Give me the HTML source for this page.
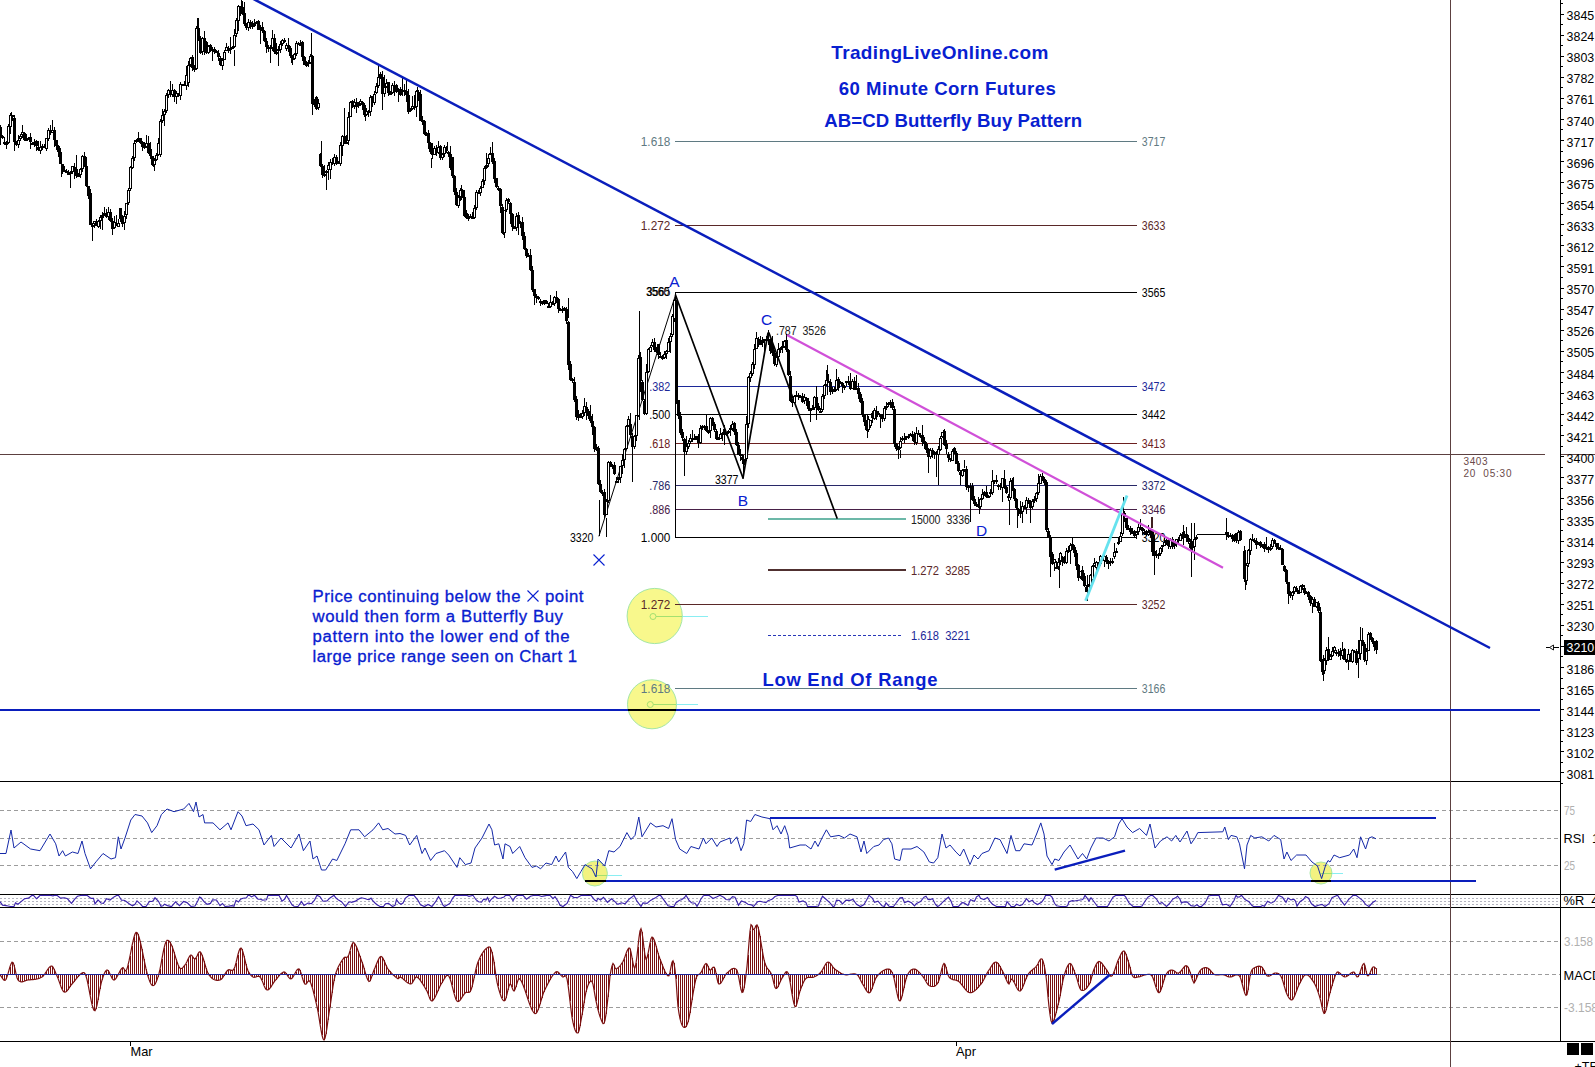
<!DOCTYPE html>
<html><head><meta charset="utf-8"><title>60 Minute Corn Futures</title>
<style>html,body{margin:0;padding:0;background:#fff;overflow:hidden}svg{display:block}</style>
</head><body>
<svg width="1595" height="1067" viewBox="0 0 1595 1067" font-family="Liberation Sans, sans-serif">
<rect width="1595" height="1067" fill="#fff"/>
<g id="circles">
<circle cx="654.7" cy="616" r="27.6" fill="#f8f88c" stroke="#a4e6a4" stroke-width="1"/>
<circle cx="652" cy="704.3" r="24.5" fill="#f8f88c" stroke="#a4e6a4" stroke-width="1"/>
<circle cx="594.9" cy="873.5" r="12.5" fill="#f2f280" stroke="#a8e8a8" stroke-width="1"/>
<circle cx="1321" cy="873" r="11" fill="#f2f280" stroke="#a8e8a8" stroke-width="1"/>
</g>
<g shape-rendering="crispEdges" fill="#000">
<rect x="0" y="781" width="1561" height="1"/>
<rect x="0" y="894" width="1595" height="1"/>
<rect x="0" y="907" width="1595" height="1"/>
<rect x="0" y="1041" width="1595" height="1"/>
<rect x="1560" y="0" width="1" height="1042"/>
<rect x="130" y="1042" width="1" height="4"/>
<rect x="956" y="1042" width="1" height="4"/>
</g>
<g stroke="#9c9c9c" stroke-width="1" stroke-dasharray="4 3" shape-rendering="crispEdges">
<line x1="0" y1="810.5" x2="1560" y2="810.5"/>
<line x1="0" y1="838.5" x2="1560" y2="838.5"/>
<line x1="0" y1="865.5" x2="1560" y2="865.5"/>
<line x1="0" y1="941.5" x2="1560" y2="941.5"/>
<line x1="0" y1="1007.5" x2="1560" y2="1007.5"/>
<line x1="1377" y1="974.5" x2="1560" y2="974.5"/>
</g>
<g stroke="#b4b4c0" stroke-width="1" stroke-dasharray="2 2" shape-rendering="crispEdges">
<line x1="0" y1="898.5" x2="1560" y2="898.5"/>
<line x1="0" y1="901.5" x2="1560" y2="901.5"/>
<line x1="0" y1="904.5" x2="1560" y2="904.5"/>
</g>
<g shape-rendering="crispEdges" fill="#5c4040">
<rect x="0" y="454" width="1545" height="1"/>
<rect x="1561" y="454" width="34" height="1"/>
<rect x="1450" y="0" width="1" height="1067"/>
</g>
<g shape-rendering="crispEdges">
<rect x="675" y="141" width="462" height="1" fill="#5f7a82"/>
<rect x="675" y="225" width="462" height="1" fill="#5a2828"/>
<rect x="675" y="292" width="462" height="1" fill="#000000"/>
<rect x="675" y="386" width="462" height="1" fill="#1c2898"/>
<rect x="675" y="414" width="462" height="1" fill="#000000"/>
<rect x="675" y="443" width="462" height="1" fill="#6c2020"/>
<rect x="675" y="485" width="462" height="1" fill="#282868"/>
<rect x="675" y="509" width="462" height="1" fill="#482048"/>
<rect x="675" y="537" width="462" height="1" fill="#000000"/>
<rect x="675" y="604" width="462" height="1" fill="#5a2828"/>
<rect x="675" y="688" width="462" height="1" fill="#5f7a82"/>
<rect x="675" y="292" width="1" height="246" fill="#000"/>
</g>
<g font-size="12.2">
<text x="640.8" y="145.9" fill="#5f7a82" textLength="29.5" lengthAdjust="spacingAndGlyphs">1.618</text>
<text x="1141.8" y="145.9" fill="#5f7a82" textLength="23.5" lengthAdjust="spacingAndGlyphs">3717</text>
<text x="640.8" y="229.9" fill="#5a2828" textLength="29.5" lengthAdjust="spacingAndGlyphs">1.272</text>
<text x="1141.8" y="229.9" fill="#5a2828" textLength="23.5" lengthAdjust="spacingAndGlyphs">3633</text>
<text x="1141.8" y="296.9" fill="#000000" textLength="23.5" lengthAdjust="spacingAndGlyphs">3565</text>
<text x="649.3" y="390.9" fill="#1c2898" textLength="21" lengthAdjust="spacingAndGlyphs">.382</text>
<text x="1141.8" y="390.9" fill="#1c2898" textLength="23.5" lengthAdjust="spacingAndGlyphs">3472</text>
<text x="649.3" y="418.9" fill="#000000" textLength="21" lengthAdjust="spacingAndGlyphs">.500</text>
<text x="1141.8" y="418.9" fill="#000000" textLength="23.5" lengthAdjust="spacingAndGlyphs">3442</text>
<text x="649.3" y="447.9" fill="#6c2020" textLength="21" lengthAdjust="spacingAndGlyphs">.618</text>
<text x="1141.8" y="447.9" fill="#6c2020" textLength="23.5" lengthAdjust="spacingAndGlyphs">3413</text>
<text x="649.3" y="489.9" fill="#282868" textLength="21" lengthAdjust="spacingAndGlyphs">.786</text>
<text x="1141.8" y="489.9" fill="#282868" textLength="23.5" lengthAdjust="spacingAndGlyphs">3372</text>
<text x="649.3" y="513.9" fill="#482048" textLength="21" lengthAdjust="spacingAndGlyphs">.886</text>
<text x="1141.8" y="513.9" fill="#482048" textLength="23.5" lengthAdjust="spacingAndGlyphs">3346</text>
<text x="640.8" y="541.9" fill="#000000" textLength="29.5" lengthAdjust="spacingAndGlyphs">1.000</text>
<text x="1141.8" y="541.9" fill="#000000" textLength="23.5" lengthAdjust="spacingAndGlyphs">3320</text>
<text x="640.8" y="608.9" fill="#5a2828" textLength="29.5" lengthAdjust="spacingAndGlyphs">1.272</text>
<text x="1141.8" y="608.9" fill="#5a2828" textLength="23.5" lengthAdjust="spacingAndGlyphs">3252</text>
<text x="640.8" y="692.9" fill="#5f7a82" textLength="29.5" lengthAdjust="spacingAndGlyphs">1.618</text>
<text x="1141.8" y="692.9" fill="#5f7a82" textLength="23.5" lengthAdjust="spacingAndGlyphs">3166</text>
</g>
<g shape-rendering="crispEdges">
<rect x="768" y="569" width="138" height="2" fill="#503030"/>
<rect x="768" y="518" width="138" height="2" fill="#6cb8a8"/>
</g>
<line x1="768" y1="635.5" x2="903" y2="635.5" stroke="#2838b8" stroke-width="1" stroke-dasharray="3 2" shape-rendering="crispEdges"/>
<g font-size="12.2">
<text x="911" y="523.6" fill="#202020" textLength="59" lengthAdjust="spacingAndGlyphs">15000&#160;&#160;3336</text>
<text x="911" y="574.8" fill="#5a2828" textLength="59" lengthAdjust="spacingAndGlyphs">1.272&#160;&#160;3285</text>
<text x="911" y="639.8" fill="#1c2898" textLength="59" lengthAdjust="spacingAndGlyphs">1.618&#160;&#160;3221</text>
<text x="776" y="335.4" fill="#202020" textLength="50" lengthAdjust="spacingAndGlyphs">.787&#160;&#160;3526</text>
<text x="646" y="296.4" fill="#000" textLength="23.5" lengthAdjust="spacingAndGlyphs">3560</text>
<text x="646.8" y="296.4" fill="#000" textLength="23.5" lengthAdjust="spacingAndGlyphs">3565</text>
<text x="570" y="541.6" fill="#000" textLength="23.5" lengthAdjust="spacingAndGlyphs">3320</text>
<text x="715" y="484" fill="#000" textLength="23.5" lengthAdjust="spacingAndGlyphs">3377</text>
</g>
<g stroke="#000" fill="none" stroke-linecap="round">
<line x1="599" y1="536" x2="675.5" y2="295" stroke-width="1"/>
<line x1="675.5" y1="295" x2="743" y2="478" stroke-width="1.7"/>
<line x1="743" y1="478" x2="768" y2="333" stroke-width="1.7"/>
<line x1="769" y1="333" x2="837" y2="518" stroke-width="1.7"/>
</g>
<path d="M0 125h1v20h-1zM-1 127h3v9h-3zM2 135h1v4h-1zM1 136h3v2h-3zM4 137h1v8h-1zM3 142h3v2h-3zM6 141h1v8h-1zM5 143h3v2h-3zM8 124h1v20h-1zM7 126h3v17h-3zM10 113h1v21h-1zM9 115h3v12h-3zM12 115h1v6h-1zM11 115h3v2h-3zM14 115h1v36h-1zM13 118h3v24h-3zM16 141h1v5h-1zM15 142h3v3h-3zM18 135h1v13h-1zM17 140h3v5h-3zM20 134h1v7h-1zM19 136h3v3h-3zM22 125h1v13h-1zM21 132h3v3h-3zM24 132h1v9h-1zM23 133h3v7h-3zM26 134h1v7h-1zM25 139h3v2h-3zM28 137h1v2h-1zM27 138h3v2h-3zM30 133h1v16h-1zM29 137h3v5h-3zM32 142h1v2h-1zM31 143h3v2h-3zM34 139h1v8h-1zM33 142h3v3h-3zM36 140h1v11h-1zM35 141h3v5h-3zM38 141h1v10h-1zM37 147h3v3h-3zM40 141h1v11h-1zM39 147h3v4h-3zM42 144h1v6h-1zM41 146h3v2h-3zM44 144h1v4h-1zM43 146h3v2h-3zM46 138h1v13h-1zM45 138h3v11h-3zM48 128h1v13h-1zM47 130h3v9h-3zM50 125h1v10h-1zM49 130h3v3h-3zM52 128h1v5h-1zM51 130h3v3h-3zM54 127h1v20h-1zM53 130h3v10h-3zM56 140h1v10h-1zM55 140h3v6h-3zM58 145h1v12h-1zM57 146h3v6h-3zM60 148h1v16h-1zM59 152h3v12h-3zM62 164h1v10h-1zM61 164h3v6h-3zM64 166h1v6h-1zM63 170h3v2h-3zM66 169h1v4h-1zM65 171h3v2h-3zM68 170h1v5h-1zM67 173h3v2h-3zM70 171h1v17h-1zM69 172h3v2h-3zM72 166h1v8h-1zM71 166h3v6h-3zM74 163h1v16h-1zM73 167h3v2h-3zM76 155h1v23h-1zM75 169h3v7h-3zM78 173h1v3h-1zM77 175h3v2h-3zM80 168h1v10h-1zM79 169h3v6h-3zM82 155h1v17h-1zM81 156h3v13h-3zM84 152h1v15h-1zM83 156h3v10h-3zM86 157h1v30h-1zM85 166h3v20h-3zM88 186h1v13h-1zM87 186h3v10h-3zM90 189h1v36h-1zM89 193h3v32h-3zM92 223h1v8h-1zM91 225h3v2h-3zM94 221h1v7h-1zM93 221h3v3h-3zM96 219h1v7h-1zM95 221h3v5h-3zM98 220h1v8h-1zM97 221h3v6h-3zM100 215h1v14h-1zM99 217h3v4h-3zM102 212h1v18h-1zM101 215h3v3h-3zM104 207h1v9h-1zM103 213h3v2h-3zM106 209h1v9h-1zM105 213h3v4h-3zM108 207h1v13h-1zM107 212h3v5h-3zM110 209h1v13h-1zM109 212h3v9h-3zM112 218h1v17h-1zM111 221h3v8h-3zM114 216h1v13h-1zM113 222h3v6h-3zM116 215h1v11h-1zM115 223h3v3h-3zM118 219h1v8h-1zM117 223h3v4h-3zM120 208h1v14h-1zM119 208h3v11h-3zM122 215h1v12h-1zM121 219h3v5h-3zM124 211h1v14h-1zM123 216h3v7h-3zM126 203h1v16h-1zM125 203h3v12h-3zM128 188h1v17h-1zM127 190h3v13h-3zM130 166h1v25h-1zM129 167h3v22h-3zM132 156h1v13h-1zM131 158h3v10h-3zM134 140h1v21h-1zM133 143h3v15h-3zM136 139h1v4h-1zM135 140h3v2h-3zM138 132h1v10h-1zM137 138h3v2h-3zM140 138h1v6h-1zM139 138h3v5h-3zM142 141h1v10h-1zM141 142h3v5h-3zM144 142h1v7h-1zM143 146h3v2h-3zM146 135h1v13h-1zM145 143h3v4h-3zM148 136h1v18h-1zM147 143h3v10h-3zM150 142h1v17h-1zM149 149h3v7h-3zM152 156h1v10h-1zM151 156h3v9h-3zM154 158h1v13h-1zM153 160h3v5h-3zM156 153h1v8h-1zM155 155h3v5h-3zM158 138h1v18h-1zM157 143h3v12h-3zM160 119h1v38h-1zM159 121h3v34h-3zM162 109h1v14h-1zM161 115h3v6h-3zM164 109h1v17h-1zM163 111h3v4h-3zM166 93h1v20h-1zM165 95h3v16h-3zM168 89h1v9h-1zM167 90h3v5h-3zM170 81h1v16h-1zM169 90h3v4h-3zM172 84h1v13h-1zM171 90h3v5h-3zM174 89h1v13h-1zM173 90h3v7h-3zM176 91h1v13h-1zM175 93h3v4h-3zM178 93h1v4h-1zM177 93h3v3h-3zM180 82h1v18h-1zM179 84h3v12h-3zM182 84h1v2h-1zM181 84h3v2h-3zM184 81h1v5h-1zM183 84h3v2h-3zM186 66h1v24h-1zM185 75h3v11h-3zM188 61h1v26h-1zM187 65h3v18h-3zM190 57h1v10h-1zM189 58h3v7h-3zM192 55h1v16h-1zM191 57h3v11h-3zM194 65h1v7h-1zM193 68h3v2h-3zM196 26h1v44h-1zM195 28h3v41h-3zM198 18h1v23h-1zM197 28h3v12h-3zM200 36h1v18h-1zM199 39h3v14h-3zM202 37h1v18h-1zM201 38h3v14h-3zM204 31h1v24h-1zM203 38h3v5h-3zM206 41h1v13h-1zM205 42h3v11h-3zM208 45h1v9h-1zM207 46h3v7h-3zM210 44h1v8h-1zM209 45h3v6h-3zM212 47h1v14h-1zM211 49h3v2h-3zM214 47h1v7h-1zM213 49h3v3h-3zM216 50h1v3h-1zM215 51h3v2h-3zM218 50h1v11h-1zM217 53h3v4h-3zM220 56h1v10h-1zM219 58h3v7h-3zM222 59h1v11h-1zM221 60h3v6h-3zM224 50h1v10h-1zM223 52h3v8h-3zM226 43h1v8h-1zM225 47h3v4h-3zM228 46h1v7h-1zM227 48h3v3h-3zM230 37h1v17h-1zM229 48h3v2h-3zM232 46h1v2h-1zM231 47h3v2h-3zM234 29h1v19h-1zM233 35h3v12h-3zM236 18h1v19h-1zM235 20h3v14h-3zM238 5h1v26h-1zM237 6h3v15h-3zM240 6h1v10h-1zM239 7h3v2h-3zM242 1h1v14h-1zM241 7h3v7h-3zM244 2h1v24h-1zM243 13h3v11h-3zM246 23h1v7h-1zM245 24h3v4h-3zM248 19h1v12h-1zM247 22h3v6h-3zM250 20h1v9h-1zM249 22h3v2h-3zM252 21h1v8h-1zM251 23h3v4h-3zM254 19h1v8h-1zM253 24h3v2h-3zM256 21h1v3h-1zM255 22h3v2h-3zM258 20h1v10h-1zM257 21h3v9h-3zM260 25h1v19h-1zM259 28h3v2h-3zM262 22h1v11h-1zM261 27h3v4h-3zM264 30h1v12h-1zM263 31h3v10h-3zM266 38h1v15h-1zM265 41h3v6h-3zM268 45h1v7h-1zM267 47h3v2h-3zM270 45h1v14h-1zM269 47h3v2h-3zM272 37h1v14h-1zM271 38h3v10h-3zM274 34h1v20h-1zM273 38h3v14h-3zM276 43h1v12h-1zM275 52h3v2h-3zM278 46h1v6h-1zM277 49h3v2h-3zM280 41h1v12h-1zM279 44h3v6h-3zM282 39h1v7h-1zM281 40h3v4h-3zM284 38h1v5h-1zM283 40h3v2h-3zM286 43h1v8h-1zM285 45h3v4h-3zM288 38h1v14h-1zM287 45h3v4h-3zM290 46h1v12h-1zM289 48h3v8h-3zM292 55h1v10h-1zM291 56h3v4h-3zM294 53h1v7h-1zM293 54h3v5h-3zM296 41h1v15h-1zM295 43h3v11h-3zM298 42h1v3h-1zM297 43h3v2h-3zM300 40h1v6h-1zM299 44h3v2h-3zM302 41h1v20h-1zM301 42h3v15h-3zM304 56h1v9h-1zM303 57h3v8h-3zM306 61h1v6h-1zM305 64h3v2h-3zM308 60h1v7h-1zM307 62h3v2h-3zM310 54h1v10h-1zM309 56h3v7h-3zM312 55h1v60h-1zM311 56h3v48h-3zM314 99h1v8h-1zM313 102h3v3h-3zM316 96h1v14h-1zM315 97h3v12h-3zM318 102h1v8h-1zM317 103h3v5h-3zM320 153h1v14h-1zM319 154h3v12h-3zM322 164h1v14h-1zM321 166h3v9h-3zM324 165h1v12h-1zM323 174h3v2h-3zM326 170h1v6h-1zM325 171h3v2h-3zM328 162h1v18h-1zM327 165h3v5h-3zM330 159h1v20h-1zM329 162h3v8h-3zM332 158h1v7h-1zM331 162h3v2h-3zM334 154h1v12h-1zM333 157h3v7h-3zM336 155h1v10h-1zM335 157h3v6h-3zM338 161h1v3h-1zM337 162h3v2h-3zM340 142h1v24h-1zM339 145h3v19h-3zM342 135h1v21h-1zM341 136h3v10h-3zM344 134h1v10h-1zM343 136h3v7h-3zM346 135h1v9h-1zM345 142h3v2h-3zM348 112h1v33h-1zM347 117h3v24h-3zM350 101h1v16h-1zM349 102h3v15h-3zM352 100h1v8h-1zM351 101h3v6h-3zM354 99h1v10h-1zM353 102h3v4h-3zM356 98h1v15h-1zM355 102h3v5h-3zM358 102h1v6h-1zM357 104h3v2h-3zM360 99h1v7h-1zM359 101h3v3h-3zM362 101h1v9h-1zM361 102h3v3h-3zM364 103h1v14h-1zM363 105h3v10h-3zM366 108h1v8h-1zM365 111h3v4h-3zM368 110h1v7h-1zM367 111h3v2h-3zM370 95h1v21h-1zM369 97h3v15h-3zM372 96h1v11h-1zM371 96h3v6h-3zM374 91h1v14h-1zM373 94h3v9h-3zM376 83h1v11h-1zM375 86h3v7h-3zM378 77h1v11h-1zM377 77h3v9h-3zM380 72h1v7h-1zM379 74h3v3h-3zM382 71h1v24h-1zM381 77h3v17h-3zM384 75h1v22h-1zM383 87h3v7h-3zM386 79h1v9h-1zM385 83h3v4h-3zM388 82h1v14h-1zM387 82h3v11h-3zM390 91h1v2h-1zM389 93h3v2h-3zM392 83h1v11h-1zM391 85h3v8h-3zM394 81h1v15h-1zM393 86h3v2h-3zM396 84h1v9h-1zM395 85h3v7h-3zM398 88h1v14h-1zM397 89h3v3h-3zM400 87h1v9h-1zM399 89h3v6h-3zM402 76h1v20h-1zM401 90h3v2h-3zM404 84h1v12h-1zM403 90h3v2h-3zM406 80h1v22h-1zM405 91h3v4h-3zM408 89h1v25h-1zM407 95h3v17h-3zM410 108h1v4h-1zM409 109h3v2h-3zM412 96h1v14h-1zM411 106h3v3h-3zM414 95h1v15h-1zM413 106h3v2h-3zM416 90h1v27h-1zM415 91h3v16h-3zM418 90h1v11h-1zM417 92h3v7h-3zM420 90h1v31h-1zM419 94h3v27h-3zM422 116h1v9h-1zM421 120h3v2h-3zM424 120h1v15h-1zM423 121h3v13h-3zM426 132h1v4h-1zM425 134h3v2h-3zM428 130h1v19h-1zM427 133h3v10h-3zM430 142h1v12h-1zM429 143h3v9h-3zM432 143h1v16h-1zM431 152h3v3h-3zM434 146h1v9h-1zM433 148h3v7h-3zM436 145h1v11h-1zM435 148h3v4h-3zM438 141h1v13h-1zM437 147h3v6h-3zM440 145h1v15h-1zM439 146h3v12h-3zM442 153h1v7h-1zM441 154h3v4h-3zM444 145h1v12h-1zM443 147h3v7h-3zM446 146h1v7h-1zM445 147h3v4h-3zM448 151h1v6h-1zM447 152h3v2h-3zM450 146h1v24h-1zM449 154h3v14h-3zM452 157h1v21h-1zM451 157h3v19h-3zM454 175h1v20h-1zM453 176h3v16h-3zM456 188h1v18h-1zM455 192h3v13h-3zM458 195h1v13h-1zM457 197h3v9h-3zM460 188h1v13h-1zM459 190h3v7h-3zM462 189h1v9h-1zM461 190h3v7h-3zM464 190h1v27h-1zM463 197h3v19h-3zM466 210h1v9h-1zM465 213h3v5h-3zM468 214h1v7h-1zM467 216h3v3h-3zM470 214h1v4h-1zM469 216h3v2h-3zM472 212h1v6h-1zM471 217h3v2h-3zM474 205h1v14h-1zM473 208h3v10h-3zM476 190h1v20h-1zM475 192h3v16h-3zM478 190h1v4h-1zM477 192h3v2h-3zM480 186h1v10h-1zM479 188h3v5h-3zM482 179h1v9h-1zM481 181h3v7h-3zM484 166h1v19h-1zM483 168h3v13h-3zM486 153h1v16h-1zM485 165h3v3h-3zM488 154h1v13h-1zM487 158h3v6h-3zM490 147h1v8h-1zM489 153h3v2h-3zM492 152h1v12h-1zM491 153h3v9h-3zM494 158h1v25h-1zM493 161h3v18h-3zM496 178h1v10h-1zM495 178h3v9h-3zM498 186h1v5h-1zM497 188h3v2h-3zM500 188h1v25h-1zM499 189h3v17h-3zM502 204h1v30h-1zM501 207h3v26h-3zM504 210h1v28h-1zM503 210h3v23h-3zM506 198h1v14h-1zM505 200h3v10h-3zM508 198h1v6h-1zM507 199h3v3h-3zM510 202h1v22h-1zM509 203h3v11h-3zM512 213h1v18h-1zM511 214h3v13h-3zM514 226h1v1h-1zM513 227h3v2h-3zM516 213h1v18h-1zM515 216h3v12h-3zM518 212h1v23h-1zM517 215h3v7h-3zM520 221h1v7h-1zM519 222h3v2h-3zM522 217h1v23h-1zM521 222h3v14h-3zM524 232h1v18h-1zM523 236h3v13h-3zM526 248h1v10h-1zM525 249h3v7h-3zM528 253h1v3h-1zM527 255h3v2h-3zM530 249h1v22h-1zM529 255h3v15h-3zM532 266h1v26h-1zM531 270h3v20h-3zM534 289h1v16h-1zM533 289h3v7h-3zM536 294h1v9h-1zM535 296h3v2h-3zM538 296h1v4h-1zM537 297h3v2h-3zM540 299h1v7h-1zM539 301h3v2h-3zM542 301h1v4h-1zM541 302h3v2h-3zM544 300h1v5h-1zM543 300h3v2h-3zM546 300h1v4h-1zM545 301h3v3h-3zM548 303h1v5h-1zM547 306h3v2h-3zM550 295h1v13h-1zM549 302h3v5h-3zM552 301h1v4h-1zM551 303h3v2h-3zM554 296h1v10h-1zM553 297h3v7h-3zM556 291h1v12h-1zM555 297h3v3h-3zM558 298h1v15h-1zM557 299h3v10h-3zM560 308h1v3h-1zM559 309h3v2h-3zM562 306h1v7h-1zM561 309h3v2h-3zM564 307h1v4h-1zM563 308h3v2h-3zM566 307h1v17h-1zM565 309h3v12h-3zM568 321h1v49h-1zM567 322h3v43h-3zM570 361h1v20h-1zM569 364h3v16h-3zM572 378h1v5h-1zM571 379h3v2h-3zM574 377h1v25h-1zM573 382h3v18h-3zM576 396h1v24h-1zM575 399h3v18h-3zM578 410h1v11h-1zM577 415h3v3h-3zM580 413h1v5h-1zM579 414h3v4h-3zM582 410h1v9h-1zM581 413h3v4h-3zM584 398h1v18h-1zM583 406h3v7h-3zM586 402h1v18h-1zM585 407h3v5h-3zM588 409h1v10h-1zM587 411h3v5h-3zM590 405h1v18h-1zM589 416h3v5h-3zM592 414h1v21h-1zM591 421h3v6h-3zM594 426h1v26h-1zM593 427h3v22h-3zM596 444h1v7h-1zM595 447h3v3h-3zM598 446h1v39h-1zM597 448h3v36h-3zM600 480h1v13h-1zM599 484h3v8h-3zM602 490h1v6h-1zM601 492h3v2h-3zM604 489h1v29h-1zM603 492h3v23h-3zM606 499h1v16h-1zM605 501h3v14h-3zM608 461h1v42h-1zM607 462h3v39h-3zM610 461h1v6h-1zM609 462h3v3h-3zM612 464h1v5h-1zM611 465h3v2h-3zM614 462h1v13h-1zM613 465h3v9h-3zM616 477h1v5h-1zM615 481h3v2h-3zM618 477h1v6h-1zM617 478h3v2h-3zM620 466h1v17h-1zM619 466h3v12h-3zM622 454h1v20h-1zM621 460h3v6h-3zM624 448h1v20h-1zM623 449h3v11h-3zM626 425h1v25h-1zM625 426h3v23h-3zM628 416h1v11h-1zM627 419h3v7h-3zM630 413h1v25h-1zM629 424h3v11h-3zM632 433h1v16h-1zM631 436h3v11h-3zM634 435h1v14h-1zM633 436h3v11h-3zM636 415h1v26h-1zM635 415h3v21h-3zM638 355h1v62h-1zM637 358h3v58h-3zM640 352h1v40h-1zM639 357h3v24h-3zM642 380h1v21h-1zM641 382h3v18h-3zM644 399h1v16h-1zM643 401h3v13h-3zM646 364h1v51h-1zM645 372h3v42h-3zM648 348h1v25h-1zM647 349h3v23h-3zM650 345h1v7h-1zM649 347h3v5h-3zM652 339h1v8h-1zM651 342h3v4h-3zM654 338h1v14h-1zM653 342h3v8h-3zM656 347h1v6h-1zM655 349h3v3h-3zM658 344h1v15h-1zM657 344h3v11h-3zM660 352h1v6h-1zM659 356h3v2h-3zM662 355h1v5h-1zM661 357h3v2h-3zM664 351h1v8h-1zM663 354h3v4h-3zM666 350h1v9h-1zM665 351h3v3h-3zM668 338h1v14h-1zM667 342h3v10h-3zM670 333h1v20h-1zM669 336h3v6h-3zM672 314h1v23h-1zM671 316h3v19h-3zM674 299h1v23h-1zM673 300h3v19h-3zM676 300h1v104h-1zM675 300h3v101h-3zM678 400h1v19h-1zM677 400h3v16h-3zM680 412h1v23h-1zM679 416h3v17h-3zM682 429h1v12h-1zM681 432h3v6h-3zM684 438h1v16h-1zM683 439h3v13h-3zM686 436h1v19h-1zM685 446h3v6h-3zM688 440h1v9h-1zM687 443h3v4h-3zM690 434h1v10h-1zM689 438h3v4h-3zM692 430h1v12h-1zM691 438h3v2h-3zM694 434h1v6h-1zM693 438h3v2h-3zM696 436h1v4h-1zM695 436h3v2h-3zM698 434h1v14h-1zM697 436h3v7h-3zM700 425h1v19h-1zM699 428h3v15h-3zM702 425h1v5h-1zM701 426h3v2h-3zM704 425h1v5h-1zM703 426h3v2h-3zM706 414h1v18h-1zM705 426h3v5h-3zM708 430h1v4h-1zM707 431h3v2h-3zM710 417h1v21h-1zM709 418h3v13h-3zM712 417h1v9h-1zM711 418h3v7h-3zM714 422h1v10h-1zM713 424h3v6h-3zM716 429h1v11h-1zM715 431h3v8h-3zM718 437h1v3h-1zM717 438h3v2h-3zM720 428h1v11h-1zM719 434h3v5h-3zM722 432h1v9h-1zM721 433h3v2h-3zM724 425h1v20h-1zM723 429h3v6h-3zM726 433h1v3h-1zM725 433h3v2h-3zM728 430h1v4h-1zM727 431h3v2h-3zM730 425h1v11h-1zM729 428h3v2h-3zM732 421h1v10h-1zM731 424h3v5h-3zM734 422h1v13h-1zM733 423h3v9h-3zM736 429h1v17h-1zM735 432h3v13h-3zM738 442h1v13h-1zM737 445h3v10h-3zM740 449h1v12h-1zM739 454h3v2h-3zM742 454h1v10h-1zM741 457h3v3h-3zM744 459h1v6h-1zM743 459h3v2h-3zM746 416h1v45h-1zM745 424h3v35h-3zM748 376h1v52h-1zM747 377h3v47h-3zM750 371h1v11h-1zM749 373h3v5h-3zM752 362h1v14h-1zM751 364h3v10h-3zM754 344h1v25h-1zM753 349h3v16h-3zM756 332h1v17h-1zM755 338h3v11h-3zM758 337h1v10h-1zM757 339h3v6h-3zM760 336h1v9h-1zM759 343h3v2h-3zM762 337h1v10h-1zM761 340h3v3h-3zM764 339h1v12h-1zM763 339h3v2h-3zM766 336h1v5h-1zM765 339h3v2h-3zM768 337h1v7h-1zM767 339h3v2h-3zM770 339h1v15h-1zM769 339h3v12h-3zM772 336h1v20h-1zM771 346h3v7h-3zM774 350h1v16h-1zM773 353h3v11h-3zM776 355h1v12h-1zM775 357h3v8h-3zM778 343h1v15h-1zM777 349h3v8h-3zM780 347h1v6h-1zM779 348h3v2h-3zM782 341h1v12h-1zM781 346h3v2h-3zM784 340h1v8h-1zM783 341h3v6h-3zM786 339h1v13h-1zM785 340h3v10h-3zM788 349h1v27h-1zM787 350h3v25h-3zM790 371h1v31h-1zM789 376h3v25h-3zM792 399h1v8h-1zM791 401h3v2h-3zM794 395h1v8h-1zM793 396h3v7h-3zM796 391h1v6h-1zM795 395h3v2h-3zM798 393h1v7h-1zM797 395h3v2h-3zM800 395h1v3h-1zM799 396h3v2h-3zM802 393h1v10h-1zM801 396h3v6h-3zM804 394h1v10h-1zM803 397h3v4h-3zM806 397h1v9h-1zM805 398h3v3h-3zM808 398h1v13h-1zM807 401h3v8h-3zM810 408h1v14h-1zM809 409h3v2h-3zM812 405h1v5h-1zM811 408h3v2h-3zM814 396h1v14h-1zM813 397h3v11h-3zM816 386h1v21h-1zM815 397h3v9h-3zM818 403h1v8h-1zM817 406h3v4h-3zM820 408h1v4h-1zM819 411h3v2h-3zM822 394h1v18h-1zM821 396h3v14h-3zM824 384h1v15h-1zM823 385h3v11h-3zM826 370h1v16h-1zM825 380h3v5h-3zM828 374h1v9h-1zM827 381h3v2h-3zM830 379h1v16h-1zM829 382h3v10h-3zM832 387h1v7h-1zM831 389h3v2h-3zM834 387h1v4h-1zM833 390h3v2h-3zM836 369h1v22h-1zM835 380h3v10h-3zM838 377h1v14h-1zM837 379h3v9h-3zM840 381h1v3h-1zM839 382h3v2h-3zM842 382h1v11h-1zM841 383h3v3h-3zM844 385h1v5h-1zM843 386h3v2h-3zM846 381h1v5h-1zM845 381h3v2h-3zM848 376h1v9h-1zM847 381h3v2h-3zM850 373h1v17h-1zM849 382h3v7h-3zM852 379h1v9h-1zM851 381h3v8h-3zM854 377h1v13h-1zM853 381h3v9h-3zM856 375h1v15h-1zM855 388h3v2h-3zM858 383h1v16h-1zM857 388h3v6h-3zM860 392h1v11h-1zM859 394h3v8h-3zM862 398h1v19h-1zM861 401h3v13h-3zM864 414h1v12h-1zM863 415h3v7h-3zM866 420h1v11h-1zM865 422h3v8h-3zM868 416h1v16h-1zM867 419h3v11h-3zM870 420h1v8h-1zM869 420h3v6h-3zM872 411h1v12h-1zM871 413h3v5h-3zM874 408h1v12h-1zM873 410h3v9h-3zM876 406h1v14h-1zM875 411h3v6h-3zM878 411h1v3h-1zM877 413h3v2h-3zM880 414h1v14h-1zM879 414h3v3h-3zM882 415h1v7h-1zM881 417h3v2h-3zM884 406h1v15h-1zM883 408h3v11h-3zM886 402h1v8h-1zM885 406h3v2h-3zM888 402h1v5h-1zM887 403h3v2h-3zM890 400h1v8h-1zM889 402h3v2h-3zM892 399h1v11h-1zM891 402h3v6h-3zM894 406h1v41h-1zM893 409h3v35h-3zM896 443h1v8h-1zM895 444h3v5h-3zM898 446h1v13h-1zM897 448h3v2h-3zM900 437h1v12h-1zM899 441h3v7h-3zM902 436h1v5h-1zM901 438h3v2h-3zM904 433h1v10h-1zM903 438h3v2h-3zM906 436h1v4h-1zM905 436h3v2h-3zM908 434h1v5h-1zM907 436h3v2h-3zM910 433h1v3h-1zM909 434h3v2h-3zM912 431h1v10h-1zM911 434h3v3h-3zM914 432h1v13h-1zM913 437h3v5h-3zM916 427h1v18h-1zM915 433h3v10h-3zM918 430h1v4h-1zM917 433h3v2h-3zM920 433h1v5h-1zM919 435h3v2h-3zM922 425h1v21h-1zM921 435h3v7h-3zM924 437h1v12h-1zM923 441h3v3h-3zM926 442h1v11h-1zM925 444h3v6h-3zM928 448h1v25h-1zM927 449h3v8h-3zM930 448h1v11h-1zM929 450h3v7h-3zM932 448h1v10h-1zM931 450h3v5h-3zM934 451h1v8h-1zM933 452h3v2h-3zM936 451h1v7h-1zM935 453h3v2h-3zM938 446h1v15h-1zM937 449h3v6h-3zM940 436h1v15h-1zM939 438h3v12h-3zM942 432h1v6h-1zM941 432h3v5h-3zM944 429h1v17h-1zM943 431h3v14h-3zM946 440h1v14h-1zM945 444h3v5h-3zM948 452h1v10h-1zM947 454h3v4h-3zM950 458h1v4h-1zM949 458h3v2h-3zM952 449h1v12h-1zM951 451h3v10h-3zM954 447h1v7h-1zM953 448h3v5h-3zM956 451h1v13h-1zM955 453h3v11h-3zM958 461h1v11h-1zM957 463h3v8h-3zM960 471h1v8h-1zM959 472h3v3h-3zM962 469h1v8h-1zM961 470h3v6h-3zM964 469h1v3h-1zM963 469h3v2h-3zM966 466h1v24h-1zM965 469h3v18h-3zM968 485h1v7h-1zM967 486h3v2h-3zM970 483h1v14h-1zM969 486h3v2h-3zM972 483h1v18h-1zM971 486h3v14h-3zM974 496h1v10h-1zM973 499h3v5h-3zM976 502h1v5h-1zM975 504h3v2h-3zM978 497h1v11h-1zM977 504h3v3h-3zM980 498h1v11h-1zM979 499h3v8h-3zM982 489h1v11h-1zM981 494h3v5h-3zM984 491h1v5h-1zM983 492h3v3h-3zM986 486h1v12h-1zM985 492h3v5h-3zM988 495h1v3h-1zM987 496h3v2h-3zM990 489h1v8h-1zM989 492h3v2h-3zM992 470h1v25h-1zM991 481h3v12h-3zM994 480h1v4h-1zM993 480h3v2h-3zM996 476h1v6h-1zM995 480h3v2h-3zM998 484h1v6h-1zM997 485h3v2h-3zM1000 483h1v7h-1zM999 485h3v2h-3zM1002 478h1v24h-1zM1001 478h3v10h-3zM1004 477h1v12h-1zM1003 479h3v9h-3zM1006 486h1v8h-1zM1005 487h3v6h-3zM1008 494h1v7h-1zM1007 496h3v2h-3zM1010 478h1v22h-1zM1009 481h3v17h-3zM1012 478h1v13h-1zM1011 480h3v9h-3zM1014 488h1v13h-1zM1013 489h3v10h-3zM1016 498h1v12h-1zM1015 499h3v9h-3zM1018 508h1v8h-1zM1017 509h3v5h-3zM1020 501h1v17h-1zM1019 511h3v3h-3zM1022 502h1v21h-1zM1021 506h3v6h-3zM1024 505h1v3h-1zM1023 507h3v2h-3zM1026 497h1v17h-1zM1025 500h3v8h-3zM1028 498h1v6h-1zM1027 500h3v2h-3zM1030 500h1v23h-1zM1029 501h3v7h-3zM1032 499h1v10h-1zM1031 501h3v6h-3zM1034 496h1v7h-1zM1033 499h3v2h-3zM1036 492h1v10h-1zM1035 493h3v6h-3zM1038 474h1v21h-1zM1037 483h3v10h-3zM1040 474h1v10h-1zM1039 476h3v8h-3zM1042 473h1v8h-1zM1041 476h3v4h-3zM1044 477h1v8h-1zM1043 479h3v4h-3zM1046 480h1v52h-1zM1045 482h3v48h-3zM1048 528h1v10h-1zM1047 531h3v7h-3zM1050 535h1v25h-1zM1049 537h3v20h-3zM1052 552h1v13h-1zM1051 554h3v10h-3zM1054 559h1v12h-1zM1053 559h3v4h-3zM1056 561h1v8h-1zM1055 567h3v2h-3zM1058 558h1v12h-1zM1057 562h3v5h-3zM1060 552h1v13h-1zM1059 553h3v8h-3zM1062 556h1v10h-1zM1061 560h3v2h-3zM1064 556h1v8h-1zM1063 557h3v6h-3zM1066 548h1v16h-1zM1065 551h3v12h-3zM1068 546h1v7h-1zM1067 550h3v2h-3zM1070 543h1v21h-1zM1069 545h3v6h-3zM1072 538h1v12h-1zM1071 544h3v4h-3zM1074 545h1v12h-1zM1073 547h3v6h-3zM1076 550h1v20h-1zM1075 553h3v13h-3zM1078 564h1v17h-1zM1077 565h3v13h-3zM1080 571h1v8h-1zM1079 571h3v6h-3zM1082 566h1v15h-1zM1081 570h3v10h-3zM1084 573h1v14h-1zM1083 576h3v10h-3zM1086 585h1v7h-1zM1085 587h3v5h-3zM1088 584h1v11h-1zM1087 586h3v6h-3zM1090 574h1v13h-1zM1089 575h3v11h-3zM1092 565h1v16h-1zM1091 566h3v14h-3zM1094 558h1v9h-1zM1093 563h3v3h-3zM1096 561h1v11h-1zM1095 562h3v6h-3zM1098 562h1v5h-1zM1097 562h3v2h-3zM1100 555h1v11h-1zM1099 556h3v8h-3zM1102 555h1v6h-1zM1101 557h3v3h-3zM1104 553h1v14h-1zM1103 556h3v5h-3zM1106 555h1v9h-1zM1105 557h3v5h-3zM1108 560h1v9h-1zM1107 562h3v2h-3zM1110 558h1v8h-1zM1109 561h3v2h-3zM1112 558h1v6h-1zM1111 561h3v2h-3zM1114 543h1v16h-1zM1113 552h3v5h-3zM1116 548h1v5h-1zM1115 551h3v2h-3zM1118 538h1v7h-1zM1117 542h3v2h-3zM1120 532h1v10h-1zM1119 536h3v6h-3zM1122 513h1v23h-1zM1121 513h3v21h-3zM1124 511h1v11h-1zM1123 513h3v4h-3zM1126 518h1v12h-1zM1125 518h3v10h-3zM1128 525h1v4h-1zM1127 528h3v2h-3zM1130 526h1v9h-1zM1129 528h3v4h-3zM1132 528h1v6h-1zM1131 532h3v2h-3zM1134 530h1v7h-1zM1133 531h3v5h-3zM1136 531h1v8h-1zM1135 532h3v3h-3zM1138 524h1v11h-1zM1137 527h3v5h-3zM1140 519h1v11h-1zM1139 527h3v2h-3zM1142 527h1v8h-1zM1141 528h3v3h-3zM1144 529h1v6h-1zM1143 532h3v2h-3zM1146 530h1v6h-1zM1145 531h3v4h-3zM1148 525h1v11h-1zM1147 532h3v3h-3zM1150 528h1v9h-1zM1149 530h3v2h-3zM1152 529h1v27h-1zM1151 531h3v21h-3zM1154 549h1v8h-1zM1153 551h3v5h-3zM1156 550h1v8h-1zM1155 554h3v2h-3zM1158 553h1v6h-1zM1157 554h3v2h-3zM1160 547h1v9h-1zM1159 548h3v6h-3zM1162 545h1v7h-1zM1161 545h3v2h-3zM1164 535h1v11h-1zM1163 542h3v4h-3zM1166 539h1v6h-1zM1165 540h3v2h-3zM1168 539h1v10h-1zM1167 541h3v5h-3zM1170 538h1v11h-1zM1169 540h3v7h-3zM1172 537h1v12h-1zM1171 539h3v8h-3zM1174 541h1v8h-1zM1173 544h3v2h-3zM1176 539h1v8h-1zM1175 539h3v5h-3zM1178 537h1v7h-1zM1177 539h3v2h-3zM1180 533h1v8h-1zM1179 535h3v6h-3zM1182 532h1v7h-1zM1181 534h3v2h-3zM1184 531h1v7h-1zM1183 534h3v2h-3zM1186 527h1v15h-1zM1185 534h3v4h-3zM1188 535h1v9h-1zM1187 538h3v4h-3zM1190 539h1v12h-1zM1189 543h3v5h-3zM1192 541h1v10h-1zM1191 546h3v2h-3zM1194 537h1v12h-1zM1193 539h3v8h-3zM1196 535h1v5h-1zM1195 537h3v2h-3zM1226 530h1v6h-1zM1225 532h3v3h-3zM1228 532h1v6h-1zM1227 535h3v2h-3zM1230 533h1v3h-1zM1229 535h3v2h-3zM1232 534h1v8h-1zM1231 535h3v4h-3zM1234 534h1v8h-1zM1233 539h3v2h-3zM1236 533h1v10h-1zM1235 533h3v7h-3zM1238 530h1v14h-1zM1237 532h3v9h-3zM1240 530h1v11h-1zM1239 531h3v9h-3zM1244 546h1v36h-1zM1243 551h3v28h-3zM1246 563h1v22h-1zM1245 565h3v16h-3zM1248 549h1v18h-1zM1247 550h3v14h-3zM1250 538h1v17h-1zM1249 539h3v12h-3zM1252 534h1v7h-1zM1251 539h3v2h-3zM1254 538h1v5h-1zM1253 540h3v2h-3zM1256 538h1v11h-1zM1255 541h3v4h-3zM1258 542h1v3h-1zM1257 543h3v2h-3zM1260 541h1v7h-1zM1259 542h3v4h-3zM1262 544h1v4h-1zM1261 545h3v2h-3zM1264 542h1v10h-1zM1263 544h3v5h-3zM1266 537h1v13h-1zM1265 547h3v2h-3zM1268 546h1v7h-1zM1267 547h3v3h-3zM1270 544h1v7h-1zM1269 548h3v2h-3zM1272 538h1v11h-1zM1271 540h3v7h-3zM1274 539h1v5h-1zM1273 540h3v4h-3zM1276 543h1v7h-1zM1275 543h3v4h-3zM1278 543h1v7h-1zM1277 547h3v2h-3zM1280 545h1v4h-1zM1279 548h3v2h-3zM1282 548h1v17h-1zM1281 549h3v16h-3zM1284 565h1v7h-1zM1283 566h3v5h-3zM1286 569h1v15h-1zM1285 570h3v12h-3zM1288 582h1v22h-1zM1287 582h3v12h-3zM1290 591h1v7h-1zM1289 594h3v2h-3zM1292 591h1v9h-1zM1291 592h3v4h-3zM1294 586h1v8h-1zM1293 587h3v5h-3zM1296 586h1v6h-1zM1295 588h3v3h-3zM1298 590h1v4h-1zM1297 591h3v3h-3zM1300 585h1v8h-1zM1299 586h3v7h-3zM1302 584h1v6h-1zM1301 585h3v2h-3zM1304 585h1v10h-1zM1303 588h3v5h-3zM1306 591h1v3h-1zM1305 592h3v2h-3zM1308 591h1v9h-1zM1307 592h3v5h-3zM1310 595h1v11h-1zM1309 596h3v7h-3zM1312 597h1v16h-1zM1311 599h3v5h-3zM1314 597h1v10h-1zM1313 599h3v8h-3zM1316 602h1v6h-1zM1315 602h3v5h-3zM1318 601h1v12h-1zM1317 603h3v8h-3zM1320 607h1v55h-1zM1319 612h3v49h-3zM1322 659h1v16h-1zM1321 660h3v12h-3zM1324 658h1v16h-1zM1323 660h3v11h-3zM1326 647h1v18h-1zM1325 650h3v11h-3zM1328 637h1v24h-1zM1327 649h3v11h-3zM1330 654h1v6h-1zM1329 656h3v4h-3zM1332 647h1v10h-1zM1331 651h3v5h-3zM1334 646h1v7h-1zM1333 647h3v4h-3zM1336 650h1v6h-1zM1335 652h3v2h-3zM1338 649h1v8h-1zM1337 652h3v2h-3zM1340 648h1v12h-1zM1339 651h3v5h-3zM1342 642h1v17h-1zM1341 650h3v6h-3zM1344 648h1v12h-1zM1343 649h3v11h-3zM1346 659h1v4h-1zM1345 660h3v2h-3zM1348 649h1v21h-1zM1347 654h3v7h-3zM1350 653h1v9h-1zM1349 654h3v8h-3zM1352 649h1v14h-1zM1351 650h3v12h-3zM1354 650h1v3h-1zM1353 651h3v2h-3zM1356 649h1v16h-1zM1355 651h3v12h-3zM1358 648h1v14h-1zM1357 653h3v6h-3zM1360 637h1v18h-1zM1359 640h3v14h-3zM1362 628h1v18h-1zM1361 640h3v4h-3zM1364 642h1v20h-1zM1363 644h3v16h-3zM1366 648h1v17h-1zM1365 651h3v10h-3zM1368 632h1v19h-1zM1367 634h3v17h-3zM1370 632h1v8h-1zM1369 633h3v5h-3zM1372 637h1v7h-1zM1371 638h3v4h-3zM1374 641h1v10h-1zM1373 642h3v5h-3zM1376 640h1v14h-1zM1375 641h3v9h-3zM241 0h1v10h-1zM92 228h1v13h-1zM61 160h1v17h-1zM11 112h1v6h-1zM52 120h1v12h-1zM40 146h1v8h-1zM124 222h1v8h-1zM153 160h1v7h-1zM900 450h1v8h-1zM936 455h1v22h-1zM938 450h1v35h-1zM943 430h1v10h-1zM960 470h1v15h-1zM964 460h1v8h-1zM970 488h1v34h-1zM979 505h1v9h-1zM996 475h1v9h-1zM1004 470h1v15h-1zM1009 500h1v25h-1zM1013 477h1v8h-1zM1017 508h1v20h-1zM321 141h1v19h-1zM344 108h1v28h-1zM365 113h1v8h-1zM378 65h1v13h-1zM382 88h1v22h-1zM417 87h1v9h-1zM447 142h1v8h-1zM431 158h1v10h-1zM326 172h1v18h-1zM197 18h1v24h-1zM222 58h1v12h-1zM234 50h1v16h-1zM270 48h1v15h-1zM272 30h1v10h-1zM278 52h1v14h-1zM291 55h1v8h-1zM318 99h1v11h-1zM492 142h1v18h-1zM599 500h1v36h-1zM606 518h1v19h-1zM632 445h1v37h-1zM639 311h1v109h-1zM684 440h1v36h-1zM743 455h1v23h-1zM1087 575h1v26h-1zM1123 497h1v33h-1zM1154 535h1v40h-1zM1191 523h1v54h-1zM1194 523h1v37h-1zM1226 518h1v22h-1zM1245 550h1v40h-1zM1323 655h1v26h-1zM1358 640h1v38h-1zM1360 627h1v33h-1zM1059 555h1v33h-1zM1050 545h1v32h-1zM867 415h1v23h-1zM827 365h1v30h-1zM816 395h1v25h-1zM503 215h1v20h-1zM311 33h1v27h-1zM461 185h1v15h-1zM568 298h1v20h-1zM768 330h1v15h-1zM786 334h1v16h-1zM1183 525h1v20h-1z" fill="#000" shape-rendering="crispEdges"/>
<path d="M8 127h1v15h-1zM10 116h1v10h-1zM18 141h1v3h-1zM20 137h1v1h-1zM22 133h1v1h-1zM40 148h1v2h-1zM46 139h1v9h-1zM48 131h1v7h-1zM52 131h1v1h-1zM72 167h1v4h-1zM80 170h1v4h-1zM82 157h1v11h-1zM94 222h1v1h-1zM98 222h1v4h-1zM100 218h1v2h-1zM108 213h1v3h-1zM114 223h1v4h-1zM118 224h1v2h-1zM124 217h1v5h-1zM126 204h1v10h-1zM128 191h1v11h-1zM130 168h1v20h-1zM132 159h1v8h-1zM134 144h1v13h-1zM146 144h1v2h-1zM154 161h1v3h-1zM156 156h1v3h-1zM158 144h1v10h-1zM160 122h1v32h-1zM162 116h1v4h-1zM164 112h1v2h-1zM166 96h1v14h-1zM168 91h1v3h-1zM172 91h1v3h-1zM176 94h1v2h-1zM180 85h1v10h-1zM186 76h1v9h-1zM188 66h1v16h-1zM190 59h1v5h-1zM196 29h1v39h-1zM202 39h1v12h-1zM208 47h1v5h-1zM222 61h1v4h-1zM224 53h1v6h-1zM226 48h1v2h-1zM234 36h1v10h-1zM236 21h1v12h-1zM238 7h1v13h-1zM248 23h1v4h-1zM272 39h1v8h-1zM280 45h1v4h-1zM282 41h1v2h-1zM286 46h1v2h-1zM294 55h1v3h-1zM296 44h1v9h-1zM310 57h1v5h-1zM318 104h1v3h-1zM328 166h1v3h-1zM330 163h1v6h-1zM334 158h1v5h-1zM340 146h1v17h-1zM342 137h1v8h-1zM348 118h1v22h-1zM350 103h1v13h-1zM354 103h1v2h-1zM360 102h1v1h-1zM366 112h1v2h-1zM370 98h1v13h-1zM374 95h1v7h-1zM376 87h1v5h-1zM378 78h1v7h-1zM384 88h1v5h-1zM386 84h1v2h-1zM392 86h1v6h-1zM412 107h1v1h-1zM416 92h1v14h-1zM434 149h1v5h-1zM438 148h1v4h-1zM442 155h1v2h-1zM444 148h1v5h-1zM458 198h1v7h-1zM460 191h1v5h-1zM474 209h1v8h-1zM476 193h1v14h-1zM480 189h1v3h-1zM482 182h1v5h-1zM484 169h1v11h-1zM488 159h1v4h-1zM504 211h1v21h-1zM506 201h1v8h-1zM516 217h1v10h-1zM550 303h1v3h-1zM554 298h1v5h-1zM582 414h1v2h-1zM584 407h1v5h-1zM606 502h1v12h-1zM608 463h1v37h-1zM620 467h1v10h-1zM622 461h1v4h-1zM624 450h1v9h-1zM626 427h1v21h-1zM628 420h1v5h-1zM634 437h1v9h-1zM636 416h1v19h-1zM638 359h1v56h-1zM646 373h1v40h-1zM648 350h1v21h-1zM650 348h1v3h-1zM652 343h1v2h-1zM664 355h1v2h-1zM666 352h1v1h-1zM668 343h1v8h-1zM670 337h1v4h-1zM672 317h1v17h-1zM674 301h1v17h-1zM686 447h1v4h-1zM688 444h1v2h-1zM690 439h1v2h-1zM700 429h1v13h-1zM710 419h1v11h-1zM720 435h1v3h-1zM732 425h1v3h-1zM746 425h1v33h-1zM748 378h1v45h-1zM750 374h1v3h-1zM752 365h1v8h-1zM754 350h1v14h-1zM756 339h1v9h-1zM776 358h1v6h-1zM778 350h1v6h-1zM784 342h1v4h-1zM794 397h1v5h-1zM804 398h1v2h-1zM814 398h1v9h-1zM822 397h1v12h-1zM824 386h1v9h-1zM826 381h1v3h-1zM836 381h1v8h-1zM852 382h1v6h-1zM868 420h1v9h-1zM870 421h1v4h-1zM874 411h1v7h-1zM884 409h1v9h-1zM900 442h1v5h-1zM916 434h1v8h-1zM930 451h1v5h-1zM938 450h1v4h-1zM940 439h1v10h-1zM942 433h1v3h-1zM952 452h1v8h-1zM962 471h1v4h-1zM980 500h1v6h-1zM982 495h1v3h-1zM992 482h1v10h-1zM1002 479h1v8h-1zM1010 482h1v15h-1zM1022 507h1v4h-1zM1026 501h1v6h-1zM1032 502h1v4h-1zM1036 494h1v4h-1zM1038 484h1v8h-1zM1040 477h1v6h-1zM1054 560h1v2h-1zM1058 563h1v3h-1zM1060 554h1v6h-1zM1066 552h1v10h-1zM1070 546h1v4h-1zM1080 572h1v4h-1zM1088 587h1v4h-1zM1090 576h1v9h-1zM1092 567h1v12h-1zM1094 564h1v1h-1zM1096 563h1v4h-1zM1100 557h1v6h-1zM1104 557h1v3h-1zM1114 553h1v3h-1zM1120 537h1v4h-1zM1122 514h1v19h-1zM1136 533h1v1h-1zM1138 528h1v3h-1zM1148 533h1v1h-1zM1160 549h1v4h-1zM1164 543h1v2h-1zM1170 541h1v5h-1zM1176 540h1v3h-1zM1180 536h1v4h-1zM1194 540h1v6h-1zM1238 533h1v7h-1zM1246 566h1v14h-1zM1248 551h1v12h-1zM1250 540h1v10h-1zM1272 541h1v5h-1zM1292 593h1v2h-1zM1294 588h1v3h-1zM1300 587h1v5h-1zM1312 600h1v3h-1zM1316 603h1v3h-1zM1324 661h1v9h-1zM1326 651h1v9h-1zM1330 657h1v2h-1zM1332 652h1v3h-1zM1334 648h1v2h-1zM1342 651h1v4h-1zM1348 655h1v5h-1zM1352 651h1v10h-1zM1358 654h1v4h-1zM1360 641h1v12h-1zM1366 652h1v8h-1zM1368 635h1v15h-1z" fill="#fff" shape-rendering="crispEdges"/>
<rect x="1197" y="534" width="28" height="1" fill="#000" shape-rendering="crispEdges"/>
<rect x="1151" y="517" width="2" height="11" fill="#402020" shape-rendering="crispEdges"/>
<line x1="787" y1="335" x2="1223" y2="567.8" stroke="#d050d8" stroke-width="2.2"/>
<line x1="1085.6" y1="600.7" x2="1127" y2="495.4" stroke="#66e2ee" stroke-width="2.8"/>
<line x1="243" y1="-6.5" x2="1490" y2="648" stroke="#0a1ebc" stroke-width="2.5"/>
<rect x="0" y="709" width="1540" height="2" fill="#0a1ebc" shape-rendering="crispEdges"/>
<rect x="628" y="709" width="48" height="2" fill="#000" shape-rendering="crispEdges"/>
<g stroke-width="1" fill="none" shape-rendering="geometricPrecision">
<g stroke="#a4e070"><circle cx="653" cy="616.5" r="3"/><line x1="656" y1="616.5" x2="682.5" y2="616.5"/>
<circle cx="650.3" cy="704.5" r="3"/><line x1="653.3" y1="704.5" x2="676.5" y2="704.5"/>
<line x1="594" y1="875.5" x2="607.5" y2="875.5"/><line x1="1321" y1="873.5" x2="1332" y2="873.5"/></g>
<g stroke="#8aeef2"><line x1="682.5" y1="616.5" x2="708" y2="616.5"/><line x1="676.5" y1="704.5" x2="698" y2="704.5"/>
<line x1="607.5" y1="875.5" x2="622" y2="875.5"/><line x1="1332" y1="873.5" x2="1343" y2="873.5"/></g>
</g>
<polyline fill="none" stroke="#1428a8" stroke-width="1" points="0,853.5 6,853.5 11,830 14,848 21,842 30.6,849 40,850.7 50,834 55.7,843.8 59,856 62.6,850.7 65.4,856 72.4,852 78,853.5 82,841 85,853.5 90.5,868.8 96,861.8 103,853.5 111,859 115.5,857.7 118.3,836.8 121,849 125,838 130.8,820 135,814.5 142,816 147.5,822.9 151.7,832.6 157,825.7 161.4,814.5 167,809 174,811.7 183.7,809 189,803.4 193.5,811.7 196,802 199,817 203,814.5 204.6,822.9 213,822.9 220,829.8 228,822.9 231,829.8 238,811.7 242,816 246,825.7 253,824 259,829.8 264,845 271.4,835.4 274,846.5 281,838 291,848 299,834 303.4,850.7 310,841 313,859 317,856 321.5,870 325.7,870 332.6,859 336.8,860.5 345,843.8 350.7,829.8 359,829.8 364.6,836.8 373,829.8 378.6,822.9 382.7,829.8 388,828.5 395,834 400,833.5 405.6,835.4 409.7,845 416.7,835.4 422,853.5 425,848 430.6,860.5 436,853.5 444.5,850.7 448.7,855 457,867.4 459.8,857.7 465.4,864.6 471,863 475,848 482,838 489,824 491.9,829.8 494.6,845 498.8,843.8 503,859 505,843.8 510,846.5 512.7,853.5 519.7,846.5 525,857.7 532,867.4 536.4,866 540.6,868.8 546,863 551.7,864.6 555.9,856 558.7,862 565.6,852 568.4,867.4 572.6,871.6 576.8,878.6 580.9,871.6 585,864.6 592,868.8 596,877 598,859 604.6,866 608.8,850.7 614,852 620,846.5 626.9,832.6 631,839.6 635,835.4 638.8,817 642,836.8 650.5,822.9 656,827 663,825.7 668.6,828.5 672,818.7 675.6,839.6 679.7,849 686.7,853.5 690.9,846.5 699,849 703.4,838 706,843.8 711.8,838 717,846.5 720,842 729.9,838 731,843.8 736.8,836.8 741,850.7 743.8,843.8 746.6,820 750.7,821.5 754.9,814.5 761.9,817 770,818.7 773,829.8 777,825.7 781,834 784.7,825.7 788,835.4 789.7,848 800,845 805.6,845 811,849 815,841 818,846.5 822,838 826.4,829.8 830.6,836.8 839,835.4 844.5,838 850,834 857,836.8 861,852 864,841 866.8,853.5 873.8,846.5 879,845 883.5,839.6 888.5,838 891.9,843.8 894.6,859 900,860.5 902.4,849 911,849 917,846.5 923.9,852 929.4,862 933.6,863 937.8,857.7 942,834 946,848 950,845 955.9,852 960,856 963.7,849 970,864.6 974,855 978,859 982,853.5 989,850.7 994.9,838 1000,839.6 1007,853.5 1011,835.4 1015.7,850.7 1020,850.7 1024,843.8 1032,845 1036.6,834 1040.8,822.9 1044,834 1047,856 1052,864.6 1054.7,859 1058.9,860.5 1064,852 1070,845 1074,852 1078,859 1082.5,853.5 1086.7,859 1090.9,848 1096,838 1103,838 1109,841 1114.5,836.8 1118.7,824 1122,818.7 1127,827 1132.6,832.6 1139.6,828.5 1146.5,835.4 1150,824 1155,848 1160.5,841 1167,836.8 1171.6,841 1175.8,835.4 1180,842 1187,831 1191,843.8 1195,838 1197.8,832.6 1222.8,831.8 1224.8,827 1228.4,839.6 1231,835.4 1236.8,836.8 1239.5,843.8 1244.5,868.8 1247,845 1250.7,835.4 1254.8,838 1261.8,836.8 1268.8,841 1274,835.4 1280.7,839.6 1284,859 1286.9,852 1291,860.5 1296.6,855 1306,855 1312,862 1317.5,866 1321.6,878.6 1325.8,864.6 1328,860.5 1330,862 1334,855 1339.7,857.7 1349.5,855 1353.7,849 1357,857.7 1360.6,836.8 1365.6,849 1369,838 1372,836.8 1376,838.8"/>
<g shape-rendering="crispEdges" fill="#0a1ebc">
<rect x="585" y="880" width="891" height="2"/>
<rect x="770" y="817" width="666" height="2"/>
</g>
<rect x="585" y="880" width="21" height="2" fill="#000" shape-rendering="crispEdges"/>
<rect x="1311" y="880" width="20" height="2" fill="#000" shape-rendering="crispEdges"/>
<line x1="1054.7" y1="869.7" x2="1125" y2="850.7" stroke="#0a1ebc" stroke-width="2.4"/>
<polyline fill="none" stroke="#3c24ac" stroke-width="1.15" points="0,901.7 2.5,905.1 6,905.6 8,906 10.5,906.5 12.5,906.5 14,906.5 15.5,902.8 18,904.3 20.5,902.1 24.5,898.8 28.5,898.1 32,895.3 33.5,895.3 36.5,898.8 38.5,897 40,895.3 44,895.3 46,895.3 50,895.3 53,895.9 54.5,895.3 57,895.3 60.5,898.1 64.5,897.8 67.5,898.8 71.5,903.4 74.5,899.3 77.5,896.2 81.5,895.3 84.5,895.3 87,895.3 91,898.4 93.5,898.4 95,903.9 98,899.9 101,903 103.5,903.4 106.5,898.6 110,900 114,896.9 117,895.3 118.5,895.3 121.5,900.2 124,900.3 125.5,901.1 129.5,904 132.5,905.8 135,904.3 137,900.8 140,903.6 142.5,906.5 146,906.5 149.5,901.4 152,901.5 153.5,900.4 155,897.8 158.5,901.3 161,906.3 163,905.7 164.5,904.2 167.5,905.6 171.5,906.5 175.5,901.8 179.5,905.7 181.5,903.6 183.5,901.5 187,902.6 191,906.5 195,906 198,900.5 199.5,897 201,897.8 204,901.6 207,904.3 210.5,903.4 212.5,899.8 216.5,900 220,905.7 222.5,903.5 225,906.5 229,906.1 232,905.6 234,906.2 236,900.3 238.5,902 240.5,899.3 243,898.3 246.5,897.7 248,895.3 249.5,895.3 251.5,896.9 254.5,895.3 258,899.2 260.5,899.2 262.5,900.1 266.5,899.8 268,895.3 271,895.3 275,895.3 279,895.3 282,901.2 284.5,899.3 286.5,895.4 289.5,900.5 292,904.8 294,906.2 298,906.5 301.5,901.6 304,905.4 308,903 310,903.4 311.5,903.6 314.5,900.1 317,895.3 320,896.8 323,901.2 327,900.9 330,897.9 334,895.3 336,898 338.5,900.1 341.5,901.7 345.5,906.5 348.5,902.4 350,901.8 351.5,902.4 355.5,901.1 359.5,898.6 361.5,897.8 365.5,898.8 367.5,899.5 369,899.6 371,898.1 372.5,900.4 375,903 377,904.8 380,906.5 383.5,906.5 385.5,903.7 388.5,903.4 392.5,906.5 395,905.4 396.5,899.6 399,903 401,904.3 403,903 405.5,898 409,895.3 410.5,895.3 414,895.3 418,900.4 420.5,904.8 424.5,906.5 428,904.4 432,906.5 436,901.2 438.5,896.7 440.5,899.7 443,905.2 444.5,906.5 448.5,904.3 450,903.2 452.5,898.4 455,895.3 457.5,895.3 461,895.3 463.5,895.3 466.5,895.3 469,896.4 473,895.3 476,899.7 478.5,901.8 481.5,902.2 483.5,899.2 486,900 487.5,897.5 489.5,901.9 491,899.5 494.5,896.3 498,898.5 501,898 504,897.1 505.5,895.3 509.5,895.3 513,900.7 515,897.2 517.5,895.3 520,895.3 523,895.3 526.5,899.2 530.5,896.2 534,895.3 537,895.3 539,895.5 541.5,896.5 544.5,895.9 547.5,895.3 550,895.3 553,898.6 555,896.7 558.5,902 560,905.3 563,906.5 567,903.4 568.5,900.2 570.5,895.3 574,897.6 576.5,897.5 578,897.2 581.5,895.3 585.5,895.3 588.5,895.5 591,895.3 594.5,899.8 596.5,901.2 598,898.3 600.5,900 603.5,897.3 607.5,902.3 611.5,898.7 615.5,902.1 617,903.9 618.5,904.1 621.5,902.8 625,903.8 627.5,901 629,899.2 632.5,896.6 634,895.3 637,901.2 641,906.5 643,902.9 647,903.4 650.5,900.4 653.5,898.8 655,898.1 659,895.3 660.5,895.3 664,900.2 668,905.8 671,906.5 674,906.5 676,902.7 679.5,900.2 681.5,899.7 684.5,897.5 686,895.3 689,900.4 691.5,902.7 695,903.3 697,906.5 699,903 700.5,899.7 703,896.1 704.5,895.3 706,895.3 709,895.3 713,898.5 717,896.8 720,895.3 724,897.5 726,899.5 729.5,899.9 732.5,896.6 735,897.3 737,901.7 738.5,905.2 741.5,900.9 745.5,902.5 748,904.2 751.5,904.9 753.5,906.5 757.5,901.8 760,901.3 763,902 766,902.7 768,900.7 772,899.3 775,896.5 778.5,895.3 781.5,895.3 784,895.3 787.5,895.3 789,895.3 790.5,895.3 793.5,895.3 795,895.3 797,896.6 799,902 803,900.9 806,902.6 807.5,906.5 809.5,906.5 811.5,906.5 815.5,906.5 818.5,906 820,901.8 822.5,896.3 826,899.3 830,902.9 833,906.5 834.5,906.1 836.5,900.1 839.5,900.5 842.5,903.9 846,900.1 850,900.3 853,899.5 856.5,904.3 860.5,906.5 864,904.6 866.5,900.2 869,895.3 872.5,898.4 874.5,902.3 878,901.2 882,905.8 884.5,906.5 886,902.8 889,906.2 891,906.5 893.5,906.5 896.5,902.5 900,897.9 902.5,897.7 904.5,902.8 908,901.2 911.5,902.8 914.5,905.9 916.5,903.4 920.5,901.5 924,897.2 926,896.3 928,899.5 930,899.6 932.5,898.8 935.5,904.4 937.5,906.5 939,905.8 943,901.8 946.5,898.7 948.5,897.1 951,901.1 953,906.4 955.5,906.5 958.5,906.5 962,902.7 964,902.9 968,905.5 970.5,899.8 974.5,901.2 976.5,896.8 979,895.3 980.5,898.2 984,899.6 987.5,897.5 990,901.3 992.5,904.2 996.5,906.5 1000.5,906.5 1004,906.5 1005.5,906.5 1007,901.7 1009.5,904.3 1011,906.5 1014.5,906.5 1016.5,904.3 1020,905.7 1022.5,904.6 1025,900.8 1026.5,898.7 1029,901.7 1032.5,900.2 1034,902.6 1037.5,904.5 1041.5,902.3 1044,898.9 1045.5,895.5 1047,895.3 1050,895.3 1052,897.2 1054.5,903.3 1056.5,905.8 1060.5,906.5 1064,906.5 1066,906.5 1067.5,905.9 1069,901.8 1072.5,900.7 1074.5,901 1078.5,900.2 1082,899.8 1083.5,898.6 1085,895.3 1087.5,898.6 1089,901.1 1091,897.7 1093.5,901 1097.5,906.5 1101,906.5 1104,906.5 1107.5,906.5 1110,902.3 1113,897.2 1116,895.3 1118.5,895.3 1122,895.3 1124,895.3 1125.5,896.7 1129,902.8 1133,906.5 1136.5,906.5 1140.5,906.5 1142,906.1 1145.5,900.5 1148,897.1 1151,895.3 1152.5,895.3 1156.5,899 1159.5,903.7 1162,902.4 1164,904.4 1166.5,906.4 1169,904 1173,898.9 1176,897.6 1177.5,896.2 1180,899.2 1181.5,903.1 1183,902.1 1187,901.9 1191,905.6 1194.5,906.2 1197,904.7 1199,906.5 1201.5,906.5 1205.5,902.5 1208.5,896 1212,895.3 1215.5,895.3 1219,895.4 1221,901.3 1222.5,904.8 1226.5,904.3 1230,906.5 1234,900.5 1236,895.3 1237.5,897.1 1239.5,897 1241.5,895.3 1245,899.5 1249,901.8 1252,905.6 1253.5,906.5 1255.5,906.5 1258,906.5 1261,906.5 1262.5,905.5 1264.5,906.3 1267.5,901.2 1271,903.2 1274.5,901.4 1278.5,895.4 1282.5,897.3 1286,902.4 1288,898.1 1291,899.9 1294,899.3 1295.5,901.1 1297,906.1 1300,901.7 1303.5,899.3 1305.5,896.4 1308.5,898.2 1311.5,903.8 1315,906.5 1318.5,905.2 1322,904.4 1325,906.5 1329,903.7 1332,897.7 1333.5,896.9 1337.5,895.3 1340.5,899.9 1344.5,905.1 1346.5,902.5 1348.5,899.7 1351.5,896.8 1353,895.3 1356,895.3 1360,898.4 1363,900.8 1365.5,904.4 1369,906.5 1373,902.3 1376,900.5"/>
<path d="M2 975h1v3h-1zM4 975h1v5h-1zM6 975h1v4h-1zM8 974h1v1h-1zM10 967h1v8h-1zM12 962h1v13h-1zM14 965h1v10h-1zM16 974h1v1h-1zM18 975h1v5h-1zM20 975h1v7h-1zM22 975h1v7h-1zM24 975h1v6h-1zM26 975h1v6h-1zM28 975h1v5h-1zM30 975h1v5h-1zM32 975h1v5h-1zM34 975h1v4h-1zM36 975h1v4h-1zM38 975h1v4h-1zM40 975h1v3h-1zM42 975h1v2h-1zM46 972h1v3h-1zM48 969h1v6h-1zM50 967h1v8h-1zM52 966h1v9h-1zM54 969h1v6h-1zM56 974h1v1h-1zM58 975h1v3h-1zM60 975h1v9h-1zM62 975h1v14h-1zM64 975h1v17h-1zM66 975h1v17h-1zM68 975h1v15h-1zM70 975h1v12h-1zM72 975h1v9h-1zM74 975h1v7h-1zM76 975h1v4h-1zM78 975h1v2h-1zM82 973h1v2h-1zM84 973h1v2h-1zM86 975h1v1h-1zM88 975h1v9h-1zM90 975h1v20h-1zM92 975h1v29h-1zM94 975h1v35h-1zM96 975h1v34h-1zM98 975h1v25h-1zM100 975h1v14h-1zM102 975h1v5h-1zM104 974h1v1h-1zM106 971h1v4h-1zM108 970h1v5h-1zM110 974h1v1h-1zM112 975h1v3h-1zM114 975h1v5h-1zM116 975h1v3h-1zM120 971h1v4h-1zM122 968h1v7h-1zM124 969h1v6h-1zM126 971h1v4h-1zM128 965h1v10h-1zM130 956h1v19h-1zM132 946h1v29h-1zM134 937h1v38h-1zM136 932h1v43h-1zM138 934h1v41h-1zM140 941h1v34h-1zM142 949h1v26h-1zM144 959h1v16h-1zM146 969h1v6h-1zM148 975h1v1h-1zM150 975h1v7h-1zM152 975h1v10h-1zM154 975h1v10h-1zM156 975h1v7h-1zM158 975h1v2h-1zM160 969h1v6h-1zM162 959h1v16h-1zM164 948h1v27h-1zM166 942h1v33h-1zM168 940h1v35h-1zM170 942h1v33h-1zM172 946h1v29h-1zM174 952h1v23h-1zM176 959h1v16h-1zM178 965h1v10h-1zM180 968h1v7h-1zM182 968h1v7h-1zM184 966h1v9h-1zM186 964h1v11h-1zM188 959h1v16h-1zM190 956h1v19h-1zM192 956h1v19h-1zM194 959h1v16h-1zM196 958h1v17h-1zM198 954h1v21h-1zM200 952h1v23h-1zM202 955h1v20h-1zM204 961h1v14h-1zM206 968h1v7h-1zM208 973h1v2h-1zM210 975h1v1h-1zM212 975h1v3h-1zM214 975h1v4h-1zM216 975h1v5h-1zM218 975h1v5h-1zM220 975h1v5h-1zM222 975h1v3h-1zM224 975h1v1h-1zM226 972h1v3h-1zM228 970h1v5h-1zM230 970h1v5h-1zM232 970h1v5h-1zM234 969h1v6h-1zM236 963h1v12h-1zM238 955h1v20h-1zM240 949h1v26h-1zM242 949h1v26h-1zM244 956h1v19h-1zM246 964h1v11h-1zM248 971h1v4h-1zM250 974h1v1h-1zM252 975h1v1h-1zM254 975h1v2h-1zM256 975h1v2h-1zM258 975h1v1h-1zM260 975h1v2h-1zM262 975h1v5h-1zM264 975h1v10h-1zM266 975h1v14h-1zM268 975h1v15h-1zM270 975h1v13h-1zM272 975h1v10h-1zM274 975h1v7h-1zM276 975h1v5h-1zM278 975h1v2h-1zM282 973h1v2h-1zM284 972h1v3h-1zM286 973h1v2h-1zM288 975h1v1h-1zM290 975h1v4h-1zM292 975h1v3h-1zM296 972h1v3h-1zM298 969h1v6h-1zM300 970h1v5h-1zM302 975h1v1h-1zM304 975h1v8h-1zM306 975h1v9h-1zM308 975h1v6h-1zM310 975h1v7h-1zM312 975h1v12h-1zM314 975h1v19h-1zM316 975h1v27h-1zM318 975h1v37h-1zM320 975h1v49h-1zM322 975h1v60h-1zM324 975h1v65h-1zM326 975h1v59h-1zM328 975h1v45h-1zM330 975h1v32h-1zM332 975h1v18h-1zM334 975h1v6h-1zM336 973h1v2h-1zM338 968h1v7h-1zM340 964h1v11h-1zM342 961h1v14h-1zM344 958h1v17h-1zM346 957h1v18h-1zM348 956h1v19h-1zM350 951h1v24h-1zM352 944h1v31h-1zM354 943h1v32h-1zM356 946h1v29h-1zM358 951h1v24h-1zM360 956h1v19h-1zM362 962h1v13h-1zM364 968h1v7h-1zM368 975h1v5h-1zM370 975h1v6h-1zM372 975h1v1h-1zM374 970h1v5h-1zM376 965h1v10h-1zM378 960h1v15h-1zM380 957h1v18h-1zM382 957h1v18h-1zM384 960h1v15h-1zM386 965h1v10h-1zM388 969h1v6h-1zM390 971h1v4h-1zM392 974h1v1h-1zM394 975h1v1h-1zM396 975h1v2h-1zM398 975h1v4h-1zM400 975h1v2h-1zM402 975h1v3h-1zM404 975h1v5h-1zM406 975h1v6h-1zM408 975h1v8h-1zM410 975h1v9h-1zM412 975h1v8h-1zM414 975h1v5h-1zM416 975h1v2h-1zM418 975h1v3h-1zM420 975h1v5h-1zM422 975h1v8h-1zM424 975h1v11h-1zM426 975h1v14h-1zM428 975h1v19h-1zM430 975h1v24h-1zM432 975h1v26h-1zM434 975h1v24h-1zM436 975h1v20h-1zM438 975h1v16h-1zM440 975h1v11h-1zM442 975h1v8h-1zM444 975h1v4h-1zM446 975h1v1h-1zM450 975h1v4h-1zM452 975h1v10h-1zM454 975h1v18h-1zM456 975h1v24h-1zM458 975h1v27h-1zM460 975h1v25h-1zM462 975h1v22h-1zM464 975h1v19h-1zM466 975h1v17h-1zM468 975h1v17h-1zM470 975h1v17h-1zM472 975h1v12h-1zM474 975h1v3h-1zM476 969h1v6h-1zM478 962h1v13h-1zM480 958h1v17h-1zM482 954h1v21h-1zM484 951h1v24h-1zM486 949h1v26h-1zM488 947h1v28h-1zM490 947h1v28h-1zM492 952h1v23h-1zM494 962h1v13h-1zM496 975h1v1h-1zM498 975h1v11h-1zM500 975h1v18h-1zM502 975h1v23h-1zM504 975h1v26h-1zM506 975h1v23h-1zM508 975h1v15h-1zM510 975h1v9h-1zM512 975h1v12h-1zM514 975h1v16h-1zM516 975h1v12h-1zM518 975h1v5h-1zM520 975h1v4h-1zM522 975h1v8h-1zM524 975h1v13h-1zM526 975h1v18h-1zM528 975h1v24h-1zM530 975h1v30h-1zM532 975h1v35h-1zM534 975h1v38h-1zM536 975h1v38h-1zM538 975h1v35h-1zM540 975h1v29h-1zM542 975h1v23h-1zM544 975h1v17h-1zM546 975h1v12h-1zM548 975h1v8h-1zM550 975h1v5h-1zM552 975h1v1h-1zM554 974h1v1h-1zM556 972h1v3h-1zM558 972h1v3h-1zM560 974h1v1h-1zM562 975h1v1h-1zM564 975h1v2h-1zM566 975h1v1h-1zM568 975h1v10h-1zM570 975h1v26h-1zM572 975h1v42h-1zM574 975h1v52h-1zM576 975h1v57h-1zM578 975h1v58h-1zM580 975h1v51h-1zM582 975h1v40h-1zM584 975h1v28h-1zM586 975h1v17h-1zM588 975h1v10h-1zM590 975h1v7h-1zM592 975h1v7h-1zM594 975h1v15h-1zM596 975h1v26h-1zM598 975h1v35h-1zM600 975h1v42h-1zM602 975h1v47h-1zM604 975h1v48h-1zM606 975h1v39h-1zM608 975h1v22h-1zM610 975h1v1h-1zM612 966h1v9h-1zM614 965h1v10h-1zM616 969h1v6h-1zM618 968h1v7h-1zM620 966h1v9h-1zM622 963h1v12h-1zM624 959h1v16h-1zM626 954h1v21h-1zM628 949h1v26h-1zM630 949h1v26h-1zM632 958h1v17h-1zM634 967h1v8h-1zM636 963h1v12h-1zM638 947h1v28h-1zM640 931h1v44h-1zM642 932h1v43h-1zM644 948h1v27h-1zM646 959h1v16h-1zM648 954h1v21h-1zM650 943h1v32h-1zM652 937h1v38h-1zM654 940h1v35h-1zM656 946h1v29h-1zM658 953h1v22h-1zM660 959h1v16h-1zM662 964h1v11h-1zM664 969h1v6h-1zM666 973h1v2h-1zM668 975h1v1h-1zM670 972h1v3h-1zM672 962h1v13h-1zM674 963h1v12h-1zM676 975h1v4h-1zM678 975h1v32h-1zM680 975h1v44h-1zM682 975h1v50h-1zM684 975h1v52h-1zM686 975h1v52h-1zM688 975h1v47h-1zM690 975h1v38h-1zM692 975h1v25h-1zM694 975h1v13h-1zM696 975h1v4h-1zM700 974h1v1h-1zM702 970h1v5h-1zM704 966h1v9h-1zM706 964h1v11h-1zM708 966h1v9h-1zM710 970h1v5h-1zM712 969h1v6h-1zM714 967h1v8h-1zM716 973h1v2h-1zM718 975h1v8h-1zM720 975h1v9h-1zM722 975h1v6h-1zM724 975h1v3h-1zM726 974h1v1h-1zM728 972h1v3h-1zM730 970h1v5h-1zM732 969h1v6h-1zM734 968h1v7h-1zM736 969h1v6h-1zM738 974h1v1h-1zM740 975h1v10h-1zM742 975h1v17h-1zM744 975h1v13h-1zM748 955h1v20h-1zM750 931h1v44h-1zM752 926h1v49h-1zM754 930h1v45h-1zM756 926h1v49h-1zM758 927h1v48h-1zM760 936h1v39h-1zM762 949h1v26h-1zM764 960h1v15h-1zM766 966h1v9h-1zM768 969h1v6h-1zM770 972h1v3h-1zM772 975h1v1h-1zM774 975h1v9h-1zM776 975h1v14h-1zM778 975h1v12h-1zM780 975h1v7h-1zM782 975h1v3h-1zM786 972h1v3h-1zM788 973h1v2h-1zM790 975h1v7h-1zM792 975h1v19h-1zM794 975h1v29h-1zM796 975h1v31h-1zM798 975h1v24h-1zM800 975h1v16h-1zM802 975h1v11h-1zM804 975h1v6h-1zM806 975h1v3h-1zM808 975h1v2h-1zM810 975h1v2h-1zM812 975h1v2h-1zM814 975h1v2h-1zM816 975h1v1h-1zM820 973h1v2h-1zM822 971h1v4h-1zM824 967h1v8h-1zM826 964h1v11h-1zM828 962h1v13h-1zM830 963h1v12h-1zM832 966h1v9h-1zM834 968h1v7h-1zM836 970h1v5h-1zM838 971h1v4h-1zM840 973h1v2h-1zM842 974h1v1h-1zM844 974h1v1h-1zM850 974h1v1h-1zM852 974h1v1h-1zM854 974h1v1h-1zM856 974h1v1h-1zM858 975h1v1h-1zM860 975h1v4h-1zM862 975h1v8h-1zM864 975h1v11h-1zM866 975h1v15h-1zM868 975h1v17h-1zM870 975h1v17h-1zM872 975h1v14h-1zM874 975h1v8h-1zM876 975h1v3h-1zM880 973h1v2h-1zM882 971h1v4h-1zM884 970h1v5h-1zM886 969h1v6h-1zM888 969h1v6h-1zM890 970h1v5h-1zM892 972h1v3h-1zM894 975h1v3h-1zM896 975h1v13h-1zM898 975h1v23h-1zM900 975h1v26h-1zM902 975h1v21h-1zM904 975h1v13h-1zM906 975h1v4h-1zM908 974h1v1h-1zM910 971h1v4h-1zM912 969h1v6h-1zM914 969h1v6h-1zM916 970h1v5h-1zM918 971h1v4h-1zM920 973h1v2h-1zM924 975h1v3h-1zM926 975h1v6h-1zM928 975h1v10h-1zM930 975h1v11h-1zM932 975h1v11h-1zM934 975h1v11h-1zM936 975h1v10h-1zM938 975h1v8h-1zM940 975h1v1h-1zM942 968h1v7h-1zM944 964h1v11h-1zM946 967h1v8h-1zM950 975h1v3h-1zM952 975h1v4h-1zM954 975h1v5h-1zM956 975h1v5h-1zM958 975h1v6h-1zM960 975h1v8h-1zM962 975h1v10h-1zM964 975h1v13h-1zM966 975h1v15h-1zM968 975h1v17h-1zM970 975h1v18h-1zM972 975h1v17h-1zM974 975h1v16h-1zM976 975h1v15h-1zM978 975h1v13h-1zM980 975h1v10h-1zM982 975h1v8h-1zM984 975h1v4h-1zM988 972h1v3h-1zM990 968h1v7h-1zM992 965h1v10h-1zM994 963h1v12h-1zM996 962h1v13h-1zM998 963h1v12h-1zM1000 966h1v9h-1zM1002 970h1v5h-1zM1004 974h1v1h-1zM1006 975h1v4h-1zM1008 975h1v8h-1zM1010 975h1v7h-1zM1012 975h1v4h-1zM1014 975h1v7h-1zM1016 975h1v11h-1zM1018 975h1v15h-1zM1020 975h1v16h-1zM1022 975h1v14h-1zM1024 975h1v9h-1zM1026 975h1v4h-1zM1030 972h1v3h-1zM1032 970h1v5h-1zM1034 968h1v7h-1zM1036 967h1v8h-1zM1038 964h1v11h-1zM1040 960h1v15h-1zM1042 959h1v16h-1zM1044 965h1v10h-1zM1046 975h1v1h-1zM1048 975h1v22h-1zM1050 975h1v39h-1zM1052 975h1v48h-1zM1054 975h1v45h-1zM1056 975h1v38h-1zM1058 975h1v30h-1zM1060 975h1v21h-1zM1062 975h1v10h-1zM1064 975h1v1h-1zM1066 970h1v5h-1zM1068 965h1v10h-1zM1070 964h1v11h-1zM1072 966h1v9h-1zM1074 970h1v5h-1zM1076 975h1v1h-1zM1078 975h1v7h-1zM1080 975h1v14h-1zM1082 975h1v15h-1zM1084 975h1v15h-1zM1086 975h1v14h-1zM1088 975h1v11h-1zM1090 975h1v8h-1zM1092 975h1v1h-1zM1094 969h1v6h-1zM1096 965h1v10h-1zM1098 962h1v13h-1zM1100 962h1v13h-1zM1102 964h1v11h-1zM1104 966h1v9h-1zM1106 969h1v6h-1zM1108 972h1v3h-1zM1110 975h1v1h-1zM1112 975h1v1h-1zM1114 972h1v3h-1zM1116 966h1v9h-1zM1118 961h1v14h-1zM1120 956h1v19h-1zM1122 952h1v23h-1zM1124 951h1v24h-1zM1126 954h1v21h-1zM1128 960h1v15h-1zM1130 967h1v8h-1zM1134 975h1v2h-1zM1136 975h1v3h-1zM1138 975h1v2h-1zM1140 975h1v2h-1zM1142 975h1v1h-1zM1148 974h1v1h-1zM1150 974h1v1h-1zM1152 975h1v1h-1zM1154 975h1v6h-1zM1156 975h1v12h-1zM1158 975h1v17h-1zM1160 975h1v17h-1zM1162 975h1v12h-1zM1164 975h1v5h-1zM1168 972h1v3h-1zM1170 970h1v5h-1zM1172 970h1v5h-1zM1174 971h1v4h-1zM1176 972h1v3h-1zM1178 973h1v2h-1zM1180 972h1v3h-1zM1182 970h1v5h-1zM1184 967h1v8h-1zM1186 966h1v9h-1zM1188 967h1v8h-1zM1190 972h1v3h-1zM1192 975h1v3h-1zM1194 975h1v8h-1zM1196 975h1v4h-1zM1200 971h1v4h-1zM1202 969h1v6h-1zM1204 968h1v7h-1zM1206 968h1v7h-1zM1208 968h1v7h-1zM1210 970h1v5h-1zM1212 972h1v3h-1zM1214 974h1v1h-1zM1226 975h1v1h-1zM1228 975h1v2h-1zM1230 975h1v2h-1zM1232 975h1v2h-1zM1234 975h1v1h-1zM1240 975h1v2h-1zM1242 975h1v8h-1zM1244 975h1v16h-1zM1246 975h1v20h-1zM1248 975h1v15h-1zM1250 975h1v1h-1zM1252 970h1v5h-1zM1254 968h1v7h-1zM1256 967h1v8h-1zM1258 966h1v9h-1zM1260 966h1v9h-1zM1262 967h1v8h-1zM1264 970h1v5h-1zM1266 974h1v1h-1zM1268 975h1v1h-1zM1270 975h1v1h-1zM1274 973h1v2h-1zM1276 973h1v2h-1zM1278 973h1v2h-1zM1282 975h1v4h-1zM1284 975h1v10h-1zM1286 975h1v17h-1zM1288 975h1v21h-1zM1290 975h1v24h-1zM1292 975h1v25h-1zM1294 975h1v22h-1zM1296 975h1v17h-1zM1298 975h1v12h-1zM1300 975h1v8h-1zM1302 975h1v4h-1zM1304 975h1v1h-1zM1310 975h1v2h-1zM1312 975h1v5h-1zM1314 975h1v8h-1zM1316 975h1v12h-1zM1318 975h1v17h-1zM1320 975h1v23h-1zM1322 975h1v32h-1zM1324 975h1v39h-1zM1326 975h1v35h-1zM1328 975h1v26h-1zM1330 975h1v18h-1zM1332 975h1v11h-1zM1334 975h1v4h-1zM1336 974h1v1h-1zM1338 972h1v3h-1zM1340 973h1v2h-1zM1344 975h1v2h-1zM1346 975h1v2h-1zM1348 975h1v1h-1zM1350 974h1v1h-1zM1352 972h1v3h-1zM1354 972h1v3h-1zM1358 975h1v2h-1zM1360 972h1v3h-1zM1362 967h1v8h-1zM1364 964h1v11h-1zM1366 971h1v4h-1zM1368 975h1v1h-1zM1370 973h1v2h-1zM1372 968h1v7h-1zM1374 967h1v8h-1zM1376 969h1v6h-1z" fill="#7a1010" shape-rendering="crispEdges"/>
<polyline fill="none" stroke="#7a1010" stroke-width="1.2" points="0,975 1,976.2 2,977.7 3,979.2 4,980.2 5,980.4 6,979.3 7,976.9 8,973.7 9,970.1 10,966.7 11,963.9 12,962.2 13,962.4 14,964.9 15,969.1 16,973.6 17,977.7 18,980 19,981 20,981.5 21,981.8 22,981.8 23,981.6 24,981.3 25,980.9 26,980.5 27,980.2 28,980 29,979.9 30,979.8 31,979.7 32,979.6 33,979.6 34,979.4 35,979.3 36,979.2 37,979 38,978.7 39,978.4 40,978 41,977.5 42,977 43,976.2 44,975 45,973.6 46,972.1 47,970.5 48,969 49,967.7 50,966.7 51,966.1 52,966.1 53,967.2 54,969 55,971.3 56,973.7 57,976 58,978.3 59,981.1 60,983.9 61,986.7 62,989.1 63,991 64,992 65,992.2 66,991.7 67,990.8 68,989.6 69,988.1 70,986.6 71,985.2 72,984 73,982.9 74,981.7 75,980.4 76,979.2 77,977.9 78,976.7 79,975.6 80,974.5 81,973.7 82,973 83,972.6 84,972.7 85,973.7 86,976 87,979.6 88,984.2 89,989.3 90,994.7 91,999.8 92,1004.4 93,1008 94,1010.2 95,1010.7 96,1008.8 97,1005 98,999.9 99,994.2 100,988.6 101,983.8 102,980.2 103,977.1 104,974.3 105,972.1 106,970.6 107,970 108,970.5 109,971.9 110,973.9 111,976.1 112,978.1 113,979.5 114,980 115,979.5 116,978.4 117,976.8 118,975 119,973 120,971.1 121,969.4 122,968.1 123,967.5 124,968.8 125,970.5 126,971 127,968.8 128,965.2 129,960.9 130,956 131,951 132,945.9 133,941.3 134,937.2 135,934 136,932.4 137,932.5 138,934.2 139,937 140,940.6 141,944.8 142,949.4 143,954.3 144,959.3 145,964.1 146,968.7 147,972.8 148,976.3 149,979.4 150,982 151,984 152,985.3 153,985.7 154,985.3 155,984.1 156,982.3 157,979.8 158,976.9 159,973.5 160,969.2 161,964.1 162,958.6 163,953.2 164,948.3 165,944.4 166,941.7 167,940.4 168,940.3 169,941 170,942.3 171,944 172,946.1 173,948.9 174,952 175,955.3 176,958.6 177,961.7 178,964.5 179,966.8 180,968.2 181,968.7 182,968.3 183,967.4 184,966.2 185,965 186,963.5 187,961.5 188,959.3 189,957.2 190,955.7 191,954.9 192,955.6 193,957.1 194,958.5 195,959 196,958 197,956.1 198,953.9 199,952.2 200,951.7 201,952.9 202,955 203,957.8 204,961 205,964.3 206,967.7 207,970.7 208,973.2 209,974.9 210,976.2 211,977.3 212,978.2 213,978.9 214,979.5 215,979.9 216,980.1 217,980.3 218,980.3 219,980.2 220,980 221,979.5 222,978.5 223,977.1 224,975.5 225,973.9 226,972.4 227,971 228,970 229,969.6 230,969.8 231,970.2 232,970.4 233,970.2 234,969 235,966.5 236,962.9 237,958.7 238,954.5 239,951 240,948.6 241,948.1 242,949.4 243,952.2 244,956 245,960.2 246,964.4 247,968 248,970.7 249,972.7 250,974.2 251,975.4 252,976.3 253,977 254,977.3 255,977.2 256,976.9 257,976.5 258,976.3 259,976.4 260,977 261,978.4 262,980.4 263,982.9 264,985.4 265,987.6 266,989.3 267,990 268,989.9 269,989.2 270,988.2 271,986.8 272,985.2 273,983.6 274,982.1 275,980.7 276,979.6 277,978.4 278,977.2 279,975.9 280,974.7 281,973.7 282,972.9 283,972.3 284,972 285,972.3 286,973.4 287,974.7 288,976.3 289,977.6 290,978.6 291,978.8 292,978.2 293,976.9 294,975.2 295,973.3 296,971.5 297,970 298,969.1 299,969 300,970.3 301,972.9 302,976.3 303,979.7 304,982.6 305,984.2 306,984.1 307,982.9 308,981.5 309,980.7 310,981.5 311,983.7 312,986.7 313,990.1 314,994 315,998.1 316,1002.4 317,1006.6 318,1011.5 319,1017.5 320,1023.8 321,1029.9 322,1035.1 323,1038.7 324,1040 325,1038.3 326,1033.9 327,1027.7 328,1020.4 329,1013.1 330,1006.6 331,1000.3 332,993.3 333,986.5 334,980.5 335,976 336,972.7 337,970 338,967.6 339,965.5 340,963.7 341,962.1 342,960.6 343,959.2 344,957.7 345,957.2 346,957.3 347,957.4 348,956.5 349,954.2 350,950.9 351,947.3 352,944.4 353,942.7 354,942.9 355,944.1 356,945.8 357,948.1 358,950.7 359,953.6 360,956.5 361,959.3 362,962 363,964.8 364,968.2 365,971.6 366,975 367,978 368,980.2 369,981.5 370,981.1 371,978.9 372,975.9 373,972.6 374,970 375,967.7 376,965.2 377,962.7 378,960.4 379,958.4 380,957 381,956.5 382,957 383,958.4 384,960.4 385,962.7 386,965.2 387,967.3 388,969 389,970.3 390,971.5 391,972.6 392,973.7 393,974.7 394,975.6 395,976.5 396,977.3 397,978.1 398,978.8 399,978 400,977 401,977.5 402,978.1 403,978.9 404,979.8 405,980.6 406,981.5 407,982.3 408,983 409,983.5 410,983.9 411,984 412,983.4 413,981.8 414,979.9 415,978.2 416,977.1 417,977.1 418,977.8 419,978.7 420,979.9 421,981.3 422,982.8 423,984.4 424,986 425,987.7 426,989.4 427,991.1 428,993.6 429,996.4 430,998.9 431,1000.6 432,1001 433,1000.2 434,999 435,997.3 436,995.3 437,993 438,990.7 439,988.4 440,986.3 441,984.3 442,982.7 443,981 444,979.2 445,977.6 446,976.2 447,975.4 448,975.4 449,976.4 450,978.6 451,981.7 452,985.3 453,989.3 454,993.2 455,996.6 456,999.4 457,1001 458,1001.5 459,1001.3 460,1000.4 461,999 462,997.4 463,995.8 464,994.3 465,993.1 466,992.4 467,992.3 468,992.5 469,992.4 470,991.8 471,990 472,987 473,982.9 474,978.4 475,973.6 476,969 477,965 478,962 479,959.7 480,957.6 481,955.6 482,953.9 483,952.3 484,950.9 485,949.7 486,948.7 487,947.9 488,947.3 489,946.8 490,947.3 491,949.3 492,952.4 493,956.5 494,962.1 495,969.1 496,976.2 497,982.2 498,986.3 499,990 500,993.3 501,996.2 502,998.5 503,1000.1 504,1000.9 505,1000.5 506,998 507,994.1 508,989.8 509,986.1 510,984 511,984.6 512,987.2 513,990 514,991 515,989.5 516,986.6 517,983.3 518,980.3 519,978.7 520,979.1 521,980.6 522,982.6 523,984.9 524,987.5 525,990.3 526,993.3 527,996.3 528,999.4 529,1002.3 530,1005 531,1007.6 532,1009.8 533,1011.5 534,1012.8 535,1013.6 536,1013.4 537,1012.2 538,1010.1 539,1007.4 540,1004.3 541,1000.9 542,997.5 543,994.3 544,991.6 545,989.4 546,987.4 547,985.4 548,983.5 549,981.6 550,979.7 551,978 552,976.5 553,975 554,973.8 555,972.7 556,971.9 557,971.7 558,972.1 559,973 560,974.1 561,975.3 562,976.4 563,977.1 564,976.6 565,975.8 566,976.1 567,978.8 568,984.6 569,992.4 570,1001.1 571,1009.7 572,1017.1 573,1022.4 574,1026.5 575,1029.7 576,1031.9 577,1033 578,1033 579,1030.8 580,1026.2 581,1020.5 582,1015 583,1009.4 584,1003.1 585,997 586,991.9 587,988.4 588,985.4 589,983.1 590,981.6 591,981 592,981.5 593,984.4 594,989.7 595,995.7 596,1001 597,1005.3 598,1009.6 599,1013.4 600,1016.6 601,1019.3 602,1021.8 603,1023.5 604,1023.4 605,1020.4 606,1014.3 607,1006.1 608,997.1 609,988 610,976 611,970.2 612,965.9 613,963.5 614,964.8 615,968 616,968.9 617,968.5 618,967.8 619,966.9 620,965.8 621,964.5 622,963 623,961.5 624,959.3 625,956.6 626,953.7 627,951.1 628,949 629,948 630,948.5 631,952.1 632,957.5 633,963.1 634,967 635,967.6 636,963.5 637,955.8 638,946.5 639,937.6 640,931 641,928.7 642,932.1 643,939.4 644,948.1 645,955.5 646,959 647,957.9 648,954 649,948.6 650,943 651,938.7 652,937 653,937.7 654,939.6 655,942.3 656,945.7 657,949.3 658,952.9 659,956.3 660,959 661,961.5 662,964.1 663,966.7 664,969.2 665,971.5 666,973.4 667,974.9 668,975.8 669,975.7 670,972.2 671,966.9 672,962.3 673,960.8 674,963.5 675,969.7 676,979 677,994.2 678,1006.6 679,1013.3 680,1018.5 681,1022.4 682,1025.1 683,1026.7 684,1027.4 685,1027.4 686,1026.5 687,1024.7 688,1022 689,1018 690,1012.6 691,1006.5 692,1000.1 693,993.9 694,988.4 695,983 696,978.5 697,976 698,974.8 699,974.3 700,973.7 701,972.4 702,970.4 703,968.2 704,966 705,964.4 706,963.5 707,964.2 708,966.3 709,968.7 710,970 711,969.7 712,968.5 713,967.3 714,967.1 715,968.8 716,973.2 717,978.5 718,982.7 719,984.1 720,983.8 721,982.8 722,981.3 723,979.5 724,977.5 725,975.7 726,974.1 727,973 728,972.2 729,971.3 730,970.4 731,969.6 732,968.9 733,968.5 734,968.3 735,968.5 736,969.1 737,970.3 738,973.6 739,978.8 740,984.5 741,989.5 742,992.4 743,992 744,988.4 745,982.3 746,974.8 747,966.4 748,955.1 749,942.5 750,931.4 751,924.7 752,925.6 753,929.2 754,929.7 755,927.8 756,925.7 757,924.9 758,926.9 759,931.1 760,936.5 761,942.5 762,948.7 763,954.6 764,959.6 765,963.3 766,965.9 767,967.8 768,969.2 769,970.4 770,971.7 771,973.3 772,975.7 773,979.6 774,983.9 775,987.4 776,988.5 777,988 778,986.6 779,984.6 780,982.3 781,980 782,978.1 783,976.6 784,974.9 785,973.1 786,971.8 787,971.6 788,973 789,976.4 790,981.5 791,987.5 792,993.7 793,999.4 794,1003.9 795,1006.6 796,1006.4 797,1003.4 798,999.1 799,994.5 800,991 801,988.3 802,985.7 803,983.3 804,981.2 805,979.5 806,978.4 807,977.8 808,977.4 809,977.3 810,977.3 811,977.4 812,977.4 813,977.3 814,977 815,976.5 816,976 817,975.4 818,974.7 819,973.9 820,973 821,972 822,970.7 823,968.9 824,967 825,965.2 826,963.6 827,962.4 828,962 829,962.2 830,963.1 831,964.2 832,965.6 833,967 834,968.3 835,969.2 836,969.9 837,970.6 838,971.3 839,972 840,972.6 841,973.2 842,973.7 843,974.1 844,974.5 845,974.7 846,974.8 847,974.8 848,974.7 849,974.5 850,974.3 851,974.1 852,974 853,973.9 854,973.8 855,973.9 856,974.2 857,974.6 858,975.5 859,977.1 860,979.1 861,981.1 862,983 863,984.6 864,986.3 865,988.1 866,989.9 867,991.4 868,992.4 869,992.8 870,992.4 871,990.9 872,988.5 873,985.7 874,982.7 875,980 876,977.8 877,976.4 878,975.2 879,974.1 880,973.1 881,972.2 882,971.4 883,970.8 884,970.2 885,969.7 886,969.4 887,969.1 888,969 889,969.1 890,969.6 891,970.7 892,972.3 893,974.6 894,978.1 895,982.8 896,988.1 897,993.2 898,997.5 899,1000.3 900,1000.9 901,999.4 902,996.3 903,992.2 904,987.6 905,983 906,979 907,976 908,974 909,972.3 910,971.1 911,970.1 912,969.5 913,969.1 914,969 915,969.2 916,969.6 917,970.3 918,971.1 919,972.1 920,973.2 921,974.3 922,975.4 923,976.6 924,978.1 925,979.7 926,981.5 927,983.1 928,984.5 929,985.5 930,986 931,986.3 932,986.5 933,986.5 934,986.3 935,985.9 936,985.1 937,984.1 938,982.7 939,980 940,976.3 941,972.1 942,968.1 943,965 944,963.5 945,964.4 946,967.3 947,971.1 948,974.7 949,977 950,978 951,978.8 952,979.3 953,979.6 954,979.8 955,980 956,980.3 957,980.6 958,981 959,981.7 960,982.7 961,983.8 962,985 963,986.3 964,987.7 965,988.9 966,990.1 967,991.1 968,992 969,992.5 970,992.7 971,992.7 972,992.4 973,991.9 974,991.3 975,990.5 976,989.6 977,988.6 978,987.5 979,986.4 980,985.2 981,984 982,982.7 983,981 984,979.2 985,977.3 986,975.3 987,973.4 988,971.6 989,970 990,968.5 991,966.9 992,965.3 993,963.9 994,962.8 995,962.2 996,962 997,962.4 998,963.4 999,964.8 1000,966.5 1001,968.3 1002,970.2 1003,972 1004,974 1005,976.4 1006,978.9 1007,981.2 1008,983.1 1009,984.1 1010,982.1 1011,979.3 1012,979.1 1013,980.4 1014,982.1 1015,984.1 1016,986.2 1017,988.2 1018,989.8 1019,990.8 1020,991 1021,990.3 1022,988.7 1023,986.6 1024,984 1025,981.4 1026,978.8 1027,976.4 1028,974.6 1029,973.2 1030,972 1031,971 1032,970.1 1033,969.3 1034,968.5 1035,967.6 1036,966.6 1037,965.5 1038,963.7 1039,961.6 1040,959.8 1041,958.8 1042,959 1043,961 1044,964.6 1045,969.7 1046,976 1047,985.2 1048,996.7 1049,1006.6 1050,1014.5 1051,1020.7 1052,1023 1053,1021.8 1054,1019.7 1055,1016.7 1056,1013.1 1057,1009.1 1058,1005 1059,1001 1060,996.4 1061,991 1062,985.4 1063,980.2 1064,976 1065,972.7 1066,969.8 1067,967.3 1068,965.3 1069,964 1070,963.5 1071,964 1072,965.5 1073,967.8 1074,970.4 1075,973.1 1076,975.6 1077,978.8 1078,982.4 1079,985.8 1080,988.5 1081,990 1082,990.5 1083,990.5 1084,990.2 1085,989.6 1086,988.7 1087,987.6 1088,986.2 1089,984.8 1090,983 1091,979.8 1092,975.8 1093,972 1094,969.3 1095,967 1096,964.9 1097,963.2 1098,962 1099,961.5 1100,961.7 1101,962.4 1102,963.5 1103,964.9 1104,966.3 1105,967.7 1106,969 1107,970.4 1108,972.3 1109,974.1 1110,975.5 1111,976.2 1112,975.8 1113,974.3 1114,972.1 1115,969.3 1116,966.3 1117,963.3 1118,960.6 1119,958.4 1120,956.2 1121,954.1 1122,952.4 1123,951.2 1124,951 1125,952.1 1126,954.3 1127,957.3 1128,960.5 1129,963.6 1130,967.5 1131,971.4 1132,974.7 1133,976.6 1134,977.4 1135,977.6 1136,977.5 1137,977.2 1138,977 1139,976.8 1140,976.6 1141,976.2 1142,975.9 1143,975.5 1144,975.1 1145,974.8 1146,974.7 1147,974.5 1148,974.4 1149,974.3 1150,974.4 1151,974.9 1152,976 1153,978 1154,980.8 1155,984.1 1156,987.3 1157,990.1 1158,992 1159,992.7 1160,991.8 1161,989.7 1162,986.8 1163,983.4 1164,980 1165,976.9 1166,974.6 1167,973 1168,971.8 1169,971 1170,970.4 1171,970.1 1172,970 1173,970.3 1174,970.8 1175,971.5 1176,972.3 1177,972.8 1178,973.1 1179,972.8 1180,972.1 1181,971 1182,969.6 1183,968.3 1184,967.1 1185,966.1 1186,965.7 1187,966 1188,967.2 1189,969.3 1190,972 1191,975.1 1192,978.2 1193,981 1194,983.1 1195,981.5 1196,979.4 1197,977 1198,974.7 1199,972.5 1200,970.8 1201,969.6 1202,968.8 1203,968.2 1204,967.8 1205,967.6 1206,967.7 1207,967.9 1208,968.2 1209,969 1210,970 1211,971.2 1212,972.4 1213,973.5 1214,974.3 1215,974.8 1216,975 1217,975 1218,975 1219,974.8 1220,974.7 1221,974.6 1222,974.5 1223,974.6 1224,974.9 1225,975.3 1226,975.7 1227,976.2 1228,976.6 1229,976.9 1230,977 1231,976.9 1232,976.6 1233,976.1 1234,975.6 1235,975.1 1236,974.8 1237,974.7 1238,974.9 1239,975.5 1240,976.8 1241,979.4 1242,983 1243,987 1244,990.7 1245,993.7 1246,995.4 1247,994.7 1248,989.9 1249,983 1250,976.3 1251,972.1 1252,969.8 1253,968.6 1254,968 1255,967.5 1256,967 1257,966.6 1258,966.3 1259,966.2 1260,966.3 1261,966.6 1262,967.2 1263,968.5 1264,970.4 1265,972.5 1266,974.4 1267,975.7 1268,976.2 1269,976.1 1270,975.8 1271,975.2 1272,974.6 1273,973.9 1274,973.4 1275,973 1276,973 1277,973.2 1278,973.5 1279,974.1 1280,975 1281,976.5 1282,978.6 1283,981.6 1284,985 1285,988.6 1286,991.8 1287,994.2 1288,996.2 1289,997.9 1290,999.1 1291,999.9 1292,999.8 1293,999 1294,997.3 1295,995 1296,992.4 1297,989.7 1298,987.1 1299,984.8 1300,982.9 1301,980.9 1302,979 1303,977.3 1304,975.9 1305,974.9 1306,974.6 1307,974.8 1308,975.3 1309,976 1310,977.1 1311,978.3 1312,979.7 1313,981.2 1314,982.8 1315,984.5 1316,986.6 1317,989.1 1318,991.9 1319,994.9 1320,998 1321,1002 1322,1006.8 1323,1011.1 1324,1013.5 1325,1012.9 1326,1010.2 1327,1006.1 1328,1001.4 1329,996.7 1330,992.7 1331,989.2 1332,985.7 1333,982.4 1334,979.2 1335,976.2 1336,973.7 1337,972.3 1338,972 1339,972.5 1340,973.3 1341,974.2 1342,975.2 1343,976.1 1344,976.8 1345,977 1346,976.8 1347,976.3 1348,975.6 1349,974.8 1350,973.9 1351,973.1 1352,972.5 1353,972.1 1354,972.1 1355,973.4 1356,975.4 1357,976.9 1358,976.8 1359,975.1 1360,972.4 1361,969.4 1362,966.5 1363,964.4 1364,963.5 1365,965.7 1366,970.6 1367,974.9 1368,976 1369,975 1370,973 1371,970.6 1372,968.4 1373,967 1374,966.9 1375,967.6 1376,968.6 1377,969"/>
<rect x="0" y="974" width="1377" height="1" fill="#1c2498" shape-rendering="crispEdges"/>
<line x1="1052" y1="1024" x2="1109.5" y2="975" stroke="#0a1ebc" stroke-width="2.4"/>
<g shape-rendering="crispEdges" fill="#000">
<rect x="1561" y="14" width="3" height="1"/>
<rect x="1561" y="24" width="2" height="1"/>
<rect x="1561" y="35" width="3" height="1"/>
<rect x="1561" y="45" width="2" height="1"/>
<rect x="1561" y="56" width="3" height="1"/>
<rect x="1561" y="66" width="2" height="1"/>
<rect x="1561" y="77" width="3" height="1"/>
<rect x="1561" y="87" width="2" height="1"/>
<rect x="1561" y="98" width="3" height="1"/>
<rect x="1561" y="108" width="2" height="1"/>
<rect x="1561" y="119" width="3" height="1"/>
<rect x="1561" y="129" width="2" height="1"/>
<rect x="1561" y="140" width="3" height="1"/>
<rect x="1561" y="151" width="2" height="1"/>
<rect x="1561" y="161" width="3" height="1"/>
<rect x="1561" y="172" width="2" height="1"/>
<rect x="1561" y="182" width="3" height="1"/>
<rect x="1561" y="193" width="2" height="1"/>
<rect x="1561" y="203" width="3" height="1"/>
<rect x="1561" y="214" width="2" height="1"/>
<rect x="1561" y="224" width="3" height="1"/>
<rect x="1561" y="235" width="2" height="1"/>
<rect x="1561" y="245" width="3" height="1"/>
<rect x="1561" y="256" width="2" height="1"/>
<rect x="1561" y="266" width="3" height="1"/>
<rect x="1561" y="277" width="2" height="1"/>
<rect x="1561" y="288" width="3" height="1"/>
<rect x="1561" y="298" width="2" height="1"/>
<rect x="1561" y="309" width="3" height="1"/>
<rect x="1561" y="319" width="2" height="1"/>
<rect x="1561" y="330" width="3" height="1"/>
<rect x="1561" y="340" width="2" height="1"/>
<rect x="1561" y="351" width="3" height="1"/>
<rect x="1561" y="361" width="2" height="1"/>
<rect x="1561" y="372" width="3" height="1"/>
<rect x="1561" y="382" width="2" height="1"/>
<rect x="1561" y="393" width="3" height="1"/>
<rect x="1561" y="403" width="2" height="1"/>
<rect x="1561" y="414" width="3" height="1"/>
<rect x="1561" y="425" width="2" height="1"/>
<rect x="1561" y="435" width="3" height="1"/>
<rect x="1561" y="446" width="2" height="1"/>
<rect x="1561" y="456" width="3" height="1"/>
<rect x="1561" y="467" width="2" height="1"/>
<rect x="1561" y="477" width="3" height="1"/>
<rect x="1561" y="488" width="2" height="1"/>
<rect x="1561" y="498" width="3" height="1"/>
<rect x="1561" y="509" width="2" height="1"/>
<rect x="1561" y="519" width="3" height="1"/>
<rect x="1561" y="530" width="2" height="1"/>
<rect x="1561" y="541" width="3" height="1"/>
<rect x="1561" y="551" width="2" height="1"/>
<rect x="1561" y="562" width="3" height="1"/>
<rect x="1561" y="572" width="2" height="1"/>
<rect x="1561" y="583" width="3" height="1"/>
<rect x="1561" y="593" width="2" height="1"/>
<rect x="1561" y="604" width="3" height="1"/>
<rect x="1561" y="614" width="2" height="1"/>
<rect x="1561" y="625" width="3" height="1"/>
<rect x="1561" y="635" width="2" height="1"/>
<rect x="1561" y="646" width="3" height="1"/>
<rect x="1561" y="656" width="2" height="1"/>
<rect x="1561" y="667" width="3" height="1"/>
<rect x="1561" y="678" width="2" height="1"/>
<rect x="1561" y="688" width="3" height="1"/>
<rect x="1561" y="699" width="2" height="1"/>
<rect x="1561" y="709" width="3" height="1"/>
<rect x="1561" y="720" width="2" height="1"/>
<rect x="1561" y="730" width="3" height="1"/>
<rect x="1561" y="741" width="2" height="1"/>
<rect x="1561" y="751" width="3" height="1"/>
<rect x="1561" y="762" width="2" height="1"/>
<rect x="1561" y="772" width="3" height="1"/>
<rect x="1561" y="783" width="2" height="1"/>
<rect x="1561" y="3" width="2" height="1"/>
</g>
<g font-size="12.4" fill="#000">
<text x="1566.6" y="20.1">3845</text>
<text x="1566.6" y="41.2">3824</text>
<text x="1566.6" y="62.3">3803</text>
<text x="1566.6" y="83.3">3782</text>
<text x="1566.6" y="104.4">3761</text>
<text x="1566.6" y="125.5">3740</text>
<text x="1566.6" y="146.6">3717</text>
<text x="1566.6" y="167.7">3696</text>
<text x="1566.6" y="188.7">3675</text>
<text x="1566.6" y="209.8">3654</text>
<text x="1566.6" y="230.9">3633</text>
<text x="1566.6" y="252">3612</text>
<text x="1566.6" y="273.1">3591</text>
<text x="1566.6" y="294.1">3570</text>
<text x="1566.6" y="315.2">3547</text>
<text x="1566.6" y="336.3">3526</text>
<text x="1566.6" y="357.4">3505</text>
<text x="1566.6" y="378.5">3484</text>
<text x="1566.6" y="399.5">3463</text>
<text x="1566.6" y="420.6">3442</text>
<text x="1566.6" y="441.7">3421</text>
<text x="1566.6" y="462.8">3400</text>
<text x="1566.6" y="483.9">3377</text>
<text x="1566.6" y="504.9">3356</text>
<text x="1566.6" y="526">3335</text>
<text x="1566.6" y="547.1">3314</text>
<text x="1566.6" y="568.2">3293</text>
<text x="1566.6" y="589.3">3272</text>
<text x="1566.6" y="610.3">3251</text>
<text x="1566.6" y="631.4">3230</text>
<text x="1566.6" y="673.6">3186</text>
<text x="1566.6" y="694.7">3165</text>
<text x="1566.6" y="715.7">3144</text>
<text x="1566.6" y="736.8">3123</text>
<text x="1566.6" y="757.9">3102</text>
<text x="1566.6" y="779">3081</text>
</g>
<rect x="1564" y="640" width="31" height="15" fill="#000" shape-rendering="crispEdges"/>
<text x="1566.6" y="652.4" font-size="12.4" fill="#fff">3210</text>
<rect x="1546" y="647" width="13" height="1" fill="#000" shape-rendering="crispEdges"/>
<path d="M1549.5 647.5l4 -2.5v5z" fill="#fff" stroke="#000" stroke-width="0.9"/>
<g font-size="12.2" fill="#b0b0b0">
<text x="1564" y="815.4" textLength="11" lengthAdjust="spacingAndGlyphs">75</text>
<text x="1564" y="870.3" textLength="11" lengthAdjust="spacingAndGlyphs">25</text>
<text x="1564" y="946.3" textLength="29" lengthAdjust="spacingAndGlyphs">3.158</text>
<text x="1564" y="1012" textLength="34" lengthAdjust="spacingAndGlyphs">-3.158</text>
</g>
<g font-size="12.8" fill="#000">
<text x="1563.5" y="842.8">RSI&#160;&#160;1</text>
<text x="1563.5" y="905.3">%R&#160;&#160;4</text>
<text x="1563.5" y="979.6">MACD</text>
</g>
<rect x="1567" y="1043" width="12" height="12" fill="#000" shape-rendering="crispEdges"/>
<rect x="1581" y="1043" width="12" height="12" fill="#000" shape-rendering="crispEdges"/>
<text x="1574.5" y="1071" font-size="12.5" fill="#000">+TR</text>
<g font-size="10" fill="#6a4a4a">
<text x="1463.5" y="465.3" textLength="24" lengthAdjust="spacing">3403</text>
<text x="1463.5" y="477" textLength="48" lengthAdjust="spacing">20&#160;&#160;05:30</text>
</g>
<g font-size="12.8" fill="#000">
<text x="130.5" y="1055.5">Mar</text>
<text x="956" y="1055.5">Apr</text>
</g>
<g font-weight="bold" fill="#0820d0">
<text x="831.3" y="58.6" font-size="19" textLength="217" lengthAdjust="spacing">TradingLiveOnline.com</text>
<text x="838.8" y="95.2" font-size="18.6" textLength="217" lengthAdjust="spacing">60 Minute Corn Futures</text>
<text x="824.2" y="126.7" font-size="18.6" textLength="258" lengthAdjust="spacing">AB=CD Butterfly Buy Pattern</text>
<text x="762.4" y="686" font-size="18.4" textLength="175" lengthAdjust="spacing">Low End Of Range</text>
</g>
<g font-size="15.5" fill="#0820d0" text-anchor="middle">
<text x="674.5" y="286.5">A</text>
<text x="743" y="505.5">B</text>
<text x="766.5" y="325">C</text>
<text x="981.5" y="535.5">D</text>
</g>
<g stroke="#0820d0" stroke-width="1.1" stroke-linecap="butt">
<path d="M593.5 554.5l11 11M604.5 554.5l-11 11" fill="none"/>
<path d="M527.5 590.5l11 11M538.5 590.5l-11 11" fill="none"/>
</g>
<g font-size="15.8" fill="#0820d0" stroke="#0820d0" stroke-width="0.3">
<text transform="translate(312.5,601.5) scale(1.06,1)" textLength="196.2" lengthAdjust="spacing">Price continuing below the</text>
<text transform="translate(545,601.5) scale(1.06,1)" textLength="36.3" lengthAdjust="spacing">point</text>
<text transform="translate(312.5,621.5) scale(1.06,1)" textLength="236.3" lengthAdjust="spacing">would then form a Butterfly Buy</text>
<text transform="translate(312.5,641.6) scale(1.06,1)" textLength="242.5" lengthAdjust="spacing">pattern into the lower end of the</text>
<text transform="translate(312.5,661.7) scale(1.06,1)" textLength="249.5" lengthAdjust="spacing">large price range seen on Chart 1</text>
</g>
</svg>
</body></html>
